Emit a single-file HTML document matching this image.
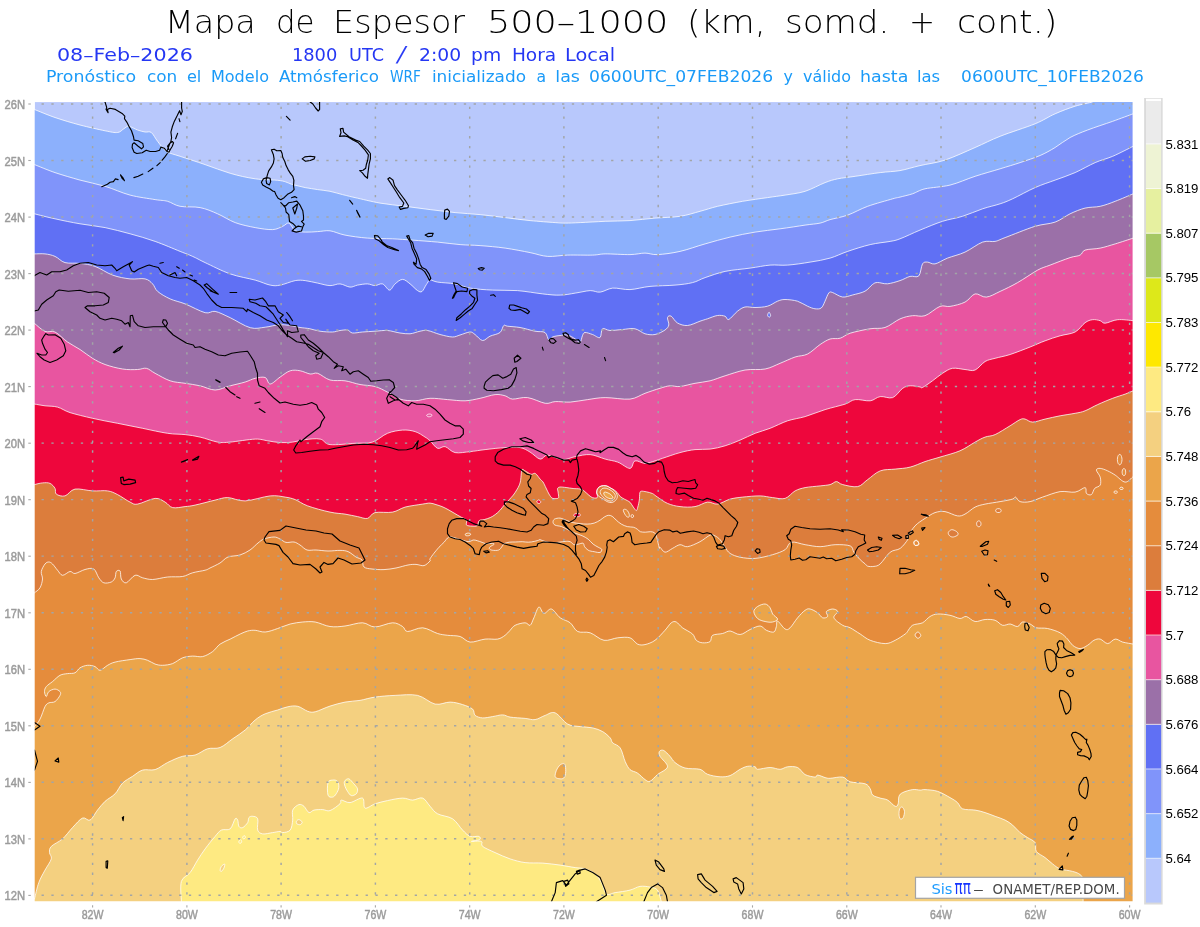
<!DOCTYPE html>
<html lang="es"><head><meta charset="utf-8"><title>Mapa de Espesor 500-1000</title>
<style>html,body{margin:0;padding:0;background:#fff}body{width:1200px;height:927px;position:relative;overflow:hidden}</style></head>
<body>
<svg width="1200" height="927" viewBox="0 0 1200 927" style="position:absolute;left:0;top:0">
<rect x="0" y="0" width="1200" height="927" fill="#fff"/>
<g>
<rect x="34.7" y="102.1" width="1097.8999999999999" height="799.1999999999999" fill="#b8c8fc"/>
<path d="M14.700000000000003 109.5 L34.5 109.5C37.9 110.8 47.4 114.9 55 117.5C62.6 120.1 71.7 122.8 80 125C88.4 127.2 98.8 129.5 105.1 130.8C111.3 132 114.4 132.9 117.6 132.5C120.7 132.2 121.9 129.8 123.8 128.8C125.7 127.7 126.5 126.1 128.8 126.3C131.1 126.5 134.9 129.1 137.6 130C140.3 131 142.8 131.6 145.1 132C147.4 132.4 149.3 131 151.3 132.5C153.4 134.1 155.1 138.2 157.6 141.3C160.1 144.4 162.6 148.8 166.3 151.3C170.1 153.8 173.6 154.1 180.1 156.3C186.6 158.5 196.8 161.7 205.1 164.6C213.5 167.4 221.8 170.9 230.2 173.3C238.5 175.7 246.8 177.6 255.2 178.8C263.5 180 273.9 179.6 280.2 180.6C286.4 181.5 288.5 183.4 292.7 184.6C296.9 185.7 301 186.7 305.2 187.6C309.4 188.4 313.6 188.9 317.7 189.6C321.9 190.2 325.9 190.5 330 191.3C334.1 192.2 338.3 193.5 342.5 194.6C346.7 195.6 348.8 196.2 355 197.6C361.3 199 371.7 201.6 380 203.1C388.4 204.5 396.7 205.2 405.1 206.3C413.4 207.4 421.7 208.5 430.1 209.6C438.4 210.6 446.8 211.7 455.1 212.6C463.4 213.4 471.8 213.8 480.1 214.6C488.5 215.4 496.8 216.6 505.1 217.6C513.5 218.6 521.8 219.8 530.1 220.6C538.5 221.4 549.3 222.2 555.2 222.6C561 223 561 223.1 565.2 223.1C569.3 223.1 573.5 222.9 580.2 222.6C586.9 222.3 596.9 221.7 605.2 221.3C613.5 221 621.7 221.1 630 220.6C638.3 220 646.7 218.8 655 218.1C663.4 217.4 672.5 217.5 680 216.3C687.5 215.2 693.8 213 700 211.3C706.3 209.7 710.5 208 717.6 206.3C724.7 204.7 734.2 202.8 742.6 201.3C750.9 199.9 760.5 198.6 767.6 197.6C774.7 196.5 778.9 196.1 785.1 195.1C791.4 194 798.5 193.4 805.1 191.3C811.8 189.2 819.7 184.6 825.1 182.6C830.6 180.5 832.7 179.9 837.7 178.8C842.7 177.8 848.1 177.4 855.2 176.3C862.3 175.3 872.7 173.5 880.2 172.6C887.7 171.6 893.4 171.7 900 170.6C906.6 169.4 912.5 167.3 920 165.6C927.5 163.8 935.9 163.1 945 160.1C954.2 157 965.9 151.5 975.1 147.5C984.2 143.6 990.1 140.2 1000.1 136.3C1010.1 132.3 1025.9 127.5 1035.1 123.8C1044.3 120 1048.4 116.7 1055.1 113.8C1061.8 110.8 1068.9 108.2 1075.1 106.2C1081.4 104.3 1089.7 102.7 1092.6 102L1092.6 82.1 L1152.6 82.1 L1152.6 921.3 L14.700000000000003 921.3 Z" fill="#8cb0fc" stroke="#fff" stroke-opacity="0.85" stroke-width="0.9" stroke-linejoin="round"/>
<path d="M14.700000000000003 164.6 L34.5 164.6C37.9 165.9 47.4 170 55 172.6C62.6 175.1 71.7 177.8 80 180.1C88.4 182.4 96.7 183.8 105.1 186.3C113.4 188.8 121.7 192.9 130.1 195.1C138.4 197.3 148.8 198.5 155.1 199.6C161.3 200.6 163.4 200.2 167.6 201.3C171.8 202.5 174.7 205.3 180.1 206.3C185.5 207.4 193.9 206.3 200.1 207.6C206.4 208.8 211.8 211.3 217.6 213.8C223.5 216.3 228.9 220.3 235.2 222.6C241.4 224.9 248.9 226.4 255.2 227.6C261.4 228.8 268.1 229.8 272.7 229.6C277.3 229.4 280 227.4 282.7 226.3C285.4 225.3 286.9 222.4 288.9 223.1C291 223.8 292.5 229.1 295.2 230.6C297.9 232.1 301.5 231.9 305.2 232.1C309 232.3 313.6 231.8 317.7 231.6C321.9 231.4 325.5 230.3 330 230.8C334.5 231.4 338.8 233.9 345 235.1C351.3 236.3 359.6 237.5 367.5 238.1C375.5 238.7 385 238.5 392.6 238.8C400.1 239.2 405.1 239.6 412.6 240.1C420.1 240.7 429.7 241.4 437.6 242.1C445.5 242.9 453 244 460.1 244.6C467.2 245.2 472.6 245 480.1 245.6C487.6 246.2 496.8 246.9 505.1 248.1C513.5 249.3 523.1 251.2 530.1 252.6C537.2 254 541.4 256 547.7 256.4C553.9 256.8 560.2 255.3 567.7 255.1C575.2 254.9 586.4 255.3 592.7 255.1C599 254.9 599 254 605.2 253.9C611.4 253.8 623.4 254.7 630 254.6C636.6 254.5 640.4 253.1 645 253.1C649.6 253.1 651.7 254.9 657.5 254.6C663.4 254.3 672.1 253.2 680 251.4C688 249.6 696.7 246.2 705.1 243.9C713.4 241.5 721.7 239.1 730.1 237.1C738.4 235.1 746.8 233.5 755.1 232.1C763.4 230.7 771.8 230 780.1 228.8C788.5 227.7 798.5 226.1 805.1 225.1C811.8 224.1 816 224 820.1 223.1C824.3 222.2 825.6 220.9 830.1 219.6C834.7 218.3 841.4 217.3 847.7 215.1C853.9 212.9 860.2 209 867.7 206.3C875.2 203.6 887.3 200.4 892.7 198.8C898.1 197.3 896.7 197.9 900 197.1C903.3 196.2 908.3 195.2 912.5 193.8C916.7 192.4 918.8 190.3 925 188.8C931.3 187.4 941.7 187.1 950 185.1C958.4 183 966.7 179 975.1 176.3C983.4 173.6 992.6 171.1 1000.1 168.8C1007.6 166.5 1013.4 164.8 1020.1 162.6C1026.8 160.3 1034.3 158 1040.1 155.5C1045.9 153 1050.1 150.5 1055.1 147.5C1060.1 144.5 1064.7 140.4 1070.1 137.5C1075.6 134.6 1080.6 132.7 1087.6 130C1094.7 127.3 1105.1 124 1112.7 121.3C1120.2 118.6 1129.8 115 1133.2 113.8L1152.6 113.8 L1152.6 921.3 L14.700000000000003 921.3 Z" fill="#8094fa" stroke="#fff" stroke-opacity="0.85" stroke-width="0.9" stroke-linejoin="round"/>
<path d="M14.700000000000003 213.8 L34.5 213.8C37.9 214.7 47.4 217.2 55 218.8C62.6 220.5 71.7 222.4 80 223.8C88.4 225.3 96.7 225.9 105.1 227.6C113.4 229.3 121.7 231.6 130.1 233.8C138.4 236.1 146.8 238.4 155.1 241.4C163.4 244.3 173.9 248.9 180.1 251.4C186.4 253.9 188.5 254.5 192.6 256.4C196.8 258.2 198.9 259.7 205.1 262.6C211.4 265.5 221.8 271 230.2 273.9C238.5 276.8 248.5 278.3 255.2 280.1C261.8 282 266 284.3 270.2 285.1C274.4 286 276 285.9 280.2 285.1C284.4 284.4 291 281.4 295.2 280.6C299.4 279.9 301.5 280.2 305.2 280.6C309 281.1 313.6 282.3 317.7 283.1C321.9 284 326.3 285.5 330 285.6C333.7 285.8 336.7 283.6 340 283.9C343.3 284.1 347.1 286.9 350 287.1C352.9 287.3 354.6 285.7 357.5 285.1C360.4 284.6 364.6 283.8 367.5 283.9C370.4 284 372.5 285.6 375 285.6C377.5 285.6 380.1 283.1 382.5 283.9C385 284.6 387.5 290.1 389.5 290.1C391.6 290.1 392.9 285.7 395.1 283.9C397.2 282.1 400 279.4 402.6 279.4C405.1 279.4 407.6 282 410.1 283.9C412.6 285.8 415.6 289.4 417.6 290.6C419.6 291.9 420.6 292.4 422.1 291.4C423.5 290.4 425 286.5 426.3 284.6C427.7 282.8 428.2 280.6 430.1 280.1C432 279.7 433.4 281.5 437.6 282.1C441.7 282.8 449.7 282.9 455.1 283.9C460.5 284.9 463.9 287.1 470.1 288.1C476.4 289.2 484.7 289.7 492.6 290.1C500.5 290.6 509.3 290 517.6 290.6C526 291.3 535.6 293.1 542.7 293.9C549.7 294.7 554.8 295.3 560.2 295.1C565.6 295 570.2 293.9 575.2 293.1C580.2 292.4 586 290.8 590.2 290.6C594.4 290.5 596.4 292.6 600.2 292.1C604 291.7 607.7 288.6 612.7 288.1C617.7 287.7 623.8 289.9 630 289.6C636.2 289.3 642.5 287.1 650 286.4C657.5 285.6 667.9 285.8 675 285.1C682.1 284.5 687.5 283.9 692.5 282.6C697.6 281.4 699.6 279.5 705.1 277.6C710.5 275.8 717.6 273 725.1 271.4C732.6 269.8 742.6 269.2 750.1 268.1C757.6 267.1 763.9 265.6 770.1 265.1C776.4 264.6 780.9 265.6 787.6 265.1C794.3 264.6 803.1 263.3 810.1 262.1C817.2 261 823.9 259.9 830.1 258.1C836.4 256.3 841 253.6 847.7 251.4C854.3 249.1 863.1 246.3 870.2 244.6C877.3 242.9 885.2 242.3 890.2 241.4C895.2 240.4 895 240.7 900 238.8C905 237 912.9 233 920 230.1C927.1 227.2 935.4 223.6 942.5 221.3C949.6 219 955.9 218.4 962.5 216.3C969.2 214.3 976.3 210.9 982.6 208.8C988.8 206.7 995.1 205.5 1000.1 203.8C1005.1 202.2 1006.7 201.5 1012.6 198.8C1018.4 196.1 1028 190.7 1035.1 187.6C1042.2 184.4 1048.4 182.6 1055.1 180.1C1061.8 177.6 1068.5 175.5 1075.1 172.6C1081.8 169.6 1088.9 165.3 1095.2 162.6C1101.4 159.8 1106.3 159 1112.7 156.3C1119 153.6 1129.8 147.9 1133.2 146.3L1152.6 146.3 L1152.6 921.3 L14.700000000000003 921.3 Z" fill="#6070f4" stroke="#fff" stroke-opacity="0.85" stroke-width="0.9" stroke-linejoin="round"/>
<path d="M14.700000000000003 253.9 L34.5 253.9C36.3 253.9 41.6 253.5 45 253.9C48.4 254.3 51.7 254.9 55 256.4C58.4 257.8 60.9 261.5 65 262.6C69.2 263.8 75 262.7 80 263.4C85 264 89.6 264.4 95 266.4C100.5 268.3 106.7 273 112.6 275.1C118.4 277.2 124.7 278.3 130.1 278.9C135.5 279.5 141.3 278 145.1 278.9C148.8 279.7 150.5 281.8 152.6 283.9C154.7 286 154.7 288.9 157.6 291.4C160.5 293.9 165.5 296.8 170.1 298.9C174.7 301 179.3 301.6 185.1 303.9C191 306.2 200.1 311.4 205.1 312.7C210.1 313.9 211 310.6 215.1 311.4C219.3 312.2 224.3 315 230.2 317.7C236 320.4 244.3 326.1 250.2 327.7C256 329.3 260.2 327.7 265.2 327.2C270.2 326.7 275.2 324.8 280.2 324.7C285.2 324.5 291.9 325.9 295.2 326.4C298.5 326.9 297.5 327.1 300 327.5C302.5 327.9 306.7 328.1 310 328.8C313.3 329.4 316.2 330.7 320 331.2C323.8 331.8 329.2 332.1 332.5 332C335.8 331.9 337.5 330.8 340 330.5C342.5 330.2 345.4 329.6 347.5 330C349.6 330.4 350 332.7 352.5 333C355 333.3 358.8 332.3 362.5 332C366.2 331.7 370.8 331.5 375 331.2C379.2 331 383.3 330.2 387.5 330.5C391.7 330.8 396.2 332.5 400 333C403.8 333.5 406.7 334 410 333.8C413.3 333.5 417.1 331.8 420 331.2C422.9 330.7 424.2 330 427.5 330.5C430.8 331 435.8 333.4 440 334.5C444.2 335.6 449.2 336.9 452.5 337C455.8 337.1 457.1 335.8 460 335C462.9 334.2 467.5 332.1 470 332C472.5 331.9 472.9 333.1 475 334.5C477.1 335.9 480 340.2 482.5 340.5C485 340.8 487.1 337.6 490 336.2C492.9 334.9 497.7 334.3 500 332.5C502.3 330.7 502.5 326.5 503.8 325.5C505 324.5 504.8 325.9 507.5 326.2C510.2 326.6 515.4 326.7 520 327.5C524.6 328.3 530.8 330.4 535 331.2C539.2 332.1 542.7 331 545 332.5C547.3 334 547.5 339.2 548.8 340C550 340.8 550.6 337.8 552.5 337C554.4 336.2 557.5 335.8 560 335.5C562.5 335.2 565 334.5 567.5 335C570 335.5 572.9 337.5 575 338.8C577.1 340 578.8 343 580 342.5C581.2 342 581.7 337.2 582.5 335.5C583.3 333.8 583.3 332.7 585 332.5C586.7 332.3 590 333.7 592.5 334.5C595 335.3 598.3 338.5 600 337.5C601.7 336.5 600.8 329.9 602.5 328.8C604.2 327.6 606.7 330.4 610 330.5C613.3 330.6 618.3 329.8 622.5 329.5C626.7 329.2 631.2 328 635 328.8C638.8 329.5 641.7 332.8 645 333.8C648.3 334.7 651.7 335.1 655 334.5C658.3 333.9 662.7 331.6 665 330C667.3 328.4 668.3 327.1 668.8 325C669.2 322.9 667.1 319 667.5 317.5C667.9 316 669.6 315.3 671.2 316.2C672.9 317.2 674.8 321.5 677.5 323C680.2 324.5 683.8 325.8 687.5 325.5C691.2 325.2 696.7 322.4 700 321.2C703.3 320.1 704.6 319.7 707.5 318.8C710.4 317.8 714.6 315.9 717.5 315.5C720.4 315.1 723.1 315.6 725 316.2C726.9 316.9 726.7 320.3 728.8 319.5C730.8 318.7 734.8 313.3 737.5 311.2C740.2 309.2 742.1 307.6 745 307C747.9 306.4 751.2 307.6 755 307.5C758.8 307.4 763.8 307.3 767.5 306.2C771.2 305.2 774.6 302.4 777.5 301.2C780.4 300.1 781.7 299.5 785 299.5C788.3 299.5 793.8 300.1 797.5 301.2C801.2 302.4 804.6 305 807.5 306.2C810.4 307.5 812.7 308.5 815 308.8C817.3 309 819.6 309.2 821.2 308C822.9 306.8 823.8 303.8 825 301.2C826.2 298.8 827.5 294.5 828.8 293C830 291.5 830.2 291.8 832.5 292.5C834.8 293.2 839.2 296.6 842.5 297C845.8 297.4 848.8 296 852.5 295C856.2 294 861.7 293 865 291.2C868.3 289.5 870.4 286 872.5 284.5C874.6 283 875 282.6 877.5 282.5C880 282.4 883.8 284.1 887.5 283.8C891.2 283.4 896.2 281.9 900 280.6C903.8 279.4 906.9 277.2 910 276.4C913.1 275.6 916.7 278 918.8 275.9C920.8 273.8 921.1 266.2 922.5 263.9C924 261.6 925.4 262.1 927.5 262.1C929.6 262.1 931.7 264.5 935 263.9C938.4 263.2 942.5 260.1 947.5 258.1C952.5 256.2 959.2 254.8 965 252.1C970.9 249.4 977.6 243.9 982.6 242.1C987.6 240.3 991.3 242.1 995.1 241.4C998.8 240.6 998.4 240.1 1005.1 237.6C1011.8 235.1 1026.8 228.9 1035.1 226.3C1043.4 223.8 1049.3 224.2 1055.1 222.1C1061 220 1065.1 216.2 1070.1 213.8C1075.1 211.5 1080.1 209.3 1085.1 208.1C1090.1 206.8 1095.1 207.5 1100.2 206.3C1105.2 205.2 1109.7 203.4 1115.2 201.3C1120.7 199.2 1130.2 195.1 1133.2 193.8L1152.6 193.8 L1152.6 921.3 L14.700000000000003 921.3 Z" fill="#9b70a8" stroke="#fff" stroke-opacity="0.85" stroke-width="0.9" stroke-linejoin="round"/>
<path d="M14.700000000000003 323.4 L34.5 323.4C36.3 324.8 41.6 330 45 331.4C48.4 332.9 51.3 330.2 55 332C58.8 333.8 63.4 339.1 67.5 342C71.7 344.9 75.9 346.8 80 349.5C84.2 352.2 88.4 355.8 92.5 358.3C96.7 360.8 100.1 362.7 105.1 364.5C110.1 366.3 117.1 368.2 122.6 369C128 369.9 133.6 369.7 137.6 369.5C141.5 369.4 143.4 367.7 146.3 368.3C149.3 368.9 151.1 371.2 155.1 373.3C159.1 375.4 165.1 379.1 170.1 380.8C175.1 382.5 180.1 382.5 185.1 383.3C190.1 384.1 195.1 384.7 200.1 385.8C205.1 386.9 210.1 390 215.1 390C220.1 390 225.1 387.1 230.2 385.8C235.2 384.5 241 383.3 245.2 382C249.3 380.8 251.8 379 255.2 378.3C258.5 377.5 262.7 376.6 265.2 377.5C267.7 378.5 267.7 384.1 270.2 384C272.7 384 276.9 379.2 280.2 377C283.5 374.8 286.9 371.8 290.2 370.8C293.5 369.7 296.9 370.2 300.2 370.8C303.5 371.3 307.3 373.6 310.2 374C313.1 374.4 314.4 372.3 317.7 373.3C321 374.3 325.5 378.8 330 380C334.5 381.3 340 380 345 380.8C350 381.5 355 383.6 360 384.5C365 385.5 370.4 385.3 375 386.5C379.6 387.8 383.4 390 387.5 392.1C391.7 394.1 395.5 397.6 400.1 399.1C404.6 400.5 410.1 400.9 415.1 400.8C420.1 400.7 424.7 398.5 430.1 398.3C435.5 398.1 441.8 399.1 447.6 399.6C453.4 400 459.7 401 465.1 400.8C470.5 400.6 475.1 399.3 480.1 398.3C485.1 397.3 490.9 395 495.1 394.6C499.3 394.1 502.2 395.1 505.1 395.8C508.1 396.6 508.9 398.8 512.6 399.1C516.4 399.3 522.2 396.8 527.6 397.6C533.1 398.3 540.6 402.6 545.2 403.3C549.7 404 551 401.8 555.2 401.6C559.3 401.3 564.8 402.4 570.2 402.1C575.6 401.7 581.9 400.3 587.7 399.6C593.5 398.8 598.2 397.6 605.2 397.6C612.3 397.5 623.4 399.8 630 399.1C636.6 398.3 640 395.1 645 393.3C650 391.5 655.9 389.5 660 388.3C664.2 387 666.7 386.1 670 385.8C673.4 385.5 675.9 387 680 386.5C684.2 386.1 690 384.2 695 383.3C700.1 382.3 705.1 382 710.1 380.8C715.1 379.5 719.2 377.6 725.1 375.8C730.9 374 738.4 371.2 745.1 370C751.8 368.9 759.3 370.2 765.1 369C770.9 367.9 775.1 365.3 780.1 363.3C785.1 361.3 790.5 358.6 795.1 357C799.7 355.5 803.5 356.1 807.6 354C811.8 351.9 816.4 347 820.1 344.5C823.9 342 826.8 340.1 830.1 339C833.5 338 836.8 339.2 840.2 338.2C843.5 337.3 845.2 334.8 850.2 333.2C855.1 331.7 864.2 329.7 870 328.8C875.8 327.8 880 329.1 885 327.5C890 325.9 895.4 320.9 900 318.9C904.6 316.9 908.3 316.2 912.5 315.7C916.7 315.1 920.4 317.2 925 315.7C929.6 314.1 935.9 307.9 940 306.4C944.2 304.9 945.9 307.1 950 306.4C954.2 305.7 960.9 304.2 965 302.1C969.2 300.1 971.5 294.7 975.1 293.9C978.6 293.1 982.1 297.6 986.3 297.1C990.5 296.7 994.9 293.8 1000.1 291.4C1005.3 289 1011.3 286.2 1017.6 282.6C1023.8 279.1 1032.2 273.1 1037.6 270.1C1043 267.2 1044.7 267.2 1050.1 265.1C1055.5 263 1065.1 259.3 1070.1 257.6C1075.1 256 1077.6 256.4 1080.1 255.1C1082.6 253.9 1081.8 251.3 1085.1 250.1C1088.5 248.9 1095.1 249.2 1100.2 248.1C1105.2 247.1 1109.7 245.5 1115.2 243.9C1120.7 242.2 1130.2 239.1 1133.2 238.1L1152.6 238.1 L1152.6 921.3 L14.700000000000003 921.3 Z" fill="#e855a0" stroke="#fff" stroke-opacity="0.85" stroke-width="0.9" stroke-linejoin="round"/>
<path d="M14.700000000000003 404.1 L34.5 404.1C36.3 404.3 41.2 405.3 45 405.8C48.8 406.3 53.4 405.9 57.5 407.1C61.7 408.2 64.2 410.7 70 412.6C75.9 414.4 84.6 416.5 92.5 418.3C100.5 420.1 109.2 421.7 117.6 423.3C125.9 425 134.2 426.7 142.6 428.3C150.9 430 160.5 432.3 167.6 433.3C174.7 434.4 179.7 434 185.1 434.6C190.5 435.2 194.7 435.8 200.1 437.1C205.5 438.3 212.6 441.2 217.6 442.1C222.6 442.9 223.9 442.6 230.2 442.1C236.4 441.6 248.9 439.3 255.2 439.1C261.4 438.9 263.5 440.2 267.7 440.8C271.9 441.4 276 442.4 280.2 442.6C284.4 442.8 288.5 442.6 292.7 442.1C296.9 441.6 300.6 440.1 305.2 439.6C309.8 439.1 316.1 438.2 320.2 439.1C324.4 439.9 324.2 443.9 330 444.6C335.8 445.3 347.9 443.7 355 443.3C362.1 442.9 367.1 443.7 372.5 442.1C377.9 440.4 382.5 435.3 387.5 433.3C392.5 431.3 398 430.4 402.6 430.1C407.1 429.8 411.3 430.4 415.1 431.6C418.8 432.7 422.6 435.5 425.1 437.1C427.6 438.6 428 439 430.1 440.8C432.2 442.7 435.1 447.4 437.6 448.3C440.1 449.3 442.2 445.9 445.1 446.6C448 447.3 450.9 451.8 455.1 452.6C459.3 453.4 465.1 452.1 470.1 451.6C475.1 451.1 479.3 450.3 485.1 449.6C491 448.9 499.3 447.9 505.1 447.6C511 447.3 516 446.8 520.1 447.6C524.3 448.3 526.8 450.2 530.1 452.1C533.5 454 537.2 458.6 540.2 459.1C543.1 459.6 543.9 455 547.7 455.1C551.4 455.2 558.1 459.4 562.7 459.6C567.3 459.9 570.6 457.4 575.2 456.6C579.8 455.8 585.2 454.2 590.2 454.6C595.2 455 600.6 457.8 605.2 459.1C609.8 460.4 613.6 460.6 617.7 462.1C621.9 463.6 627.1 468.6 630 468.4C632.9 468.1 632.5 461.7 635 460.9C637.5 460 641.7 463.4 645 463.4C648.3 463.4 652.1 461.7 655 460.9C657.9 460 658.4 459.7 662.5 458.3C666.7 457 674.6 454 680 452.6C685.5 451.1 690 450.2 695 449.6C700.1 449 705.1 449.7 710.1 449.1C715.1 448.5 720.1 447.3 725.1 445.8C730.1 444.3 735.1 442.2 740.1 440.1C745.1 438 750.1 435.3 755.1 433.3C760.1 431.4 764.7 430.4 770.1 428.3C775.5 426.2 781.8 422.8 787.6 420.8C793.5 418.9 798.9 418.4 805.1 416.6C811.4 414.7 818.5 411.6 825.1 409.6C831.8 407.5 840.2 405.7 845.2 404.1C850.2 402.4 851 400.1 855.2 399.6C859.3 399 866 401.3 870.2 400.8C874.3 400.3 876.4 397.1 880.2 396.6C883.9 396 888.9 398.9 892.7 397.6C896.5 396.2 899.8 390.2 902.7 388.3C905.6 386.3 907.3 386 910.2 385.8C913.1 385.6 918.2 386.7 920.2 387C922.3 387.3 920.5 388.6 922.5 387.5C924.6 386.5 929.2 383.2 932.5 380.8C935.9 378.4 939.2 375.4 942.5 373.3C945.9 371.2 948.8 368.9 952.5 368.3C956.3 367.7 961.3 369.2 965 369.5C968.8 369.8 971.7 371.4 975.1 370C978.4 368.7 981.7 363.5 985.1 361.5C988.4 359.6 990.9 359.4 995.1 358.3C999.2 357.1 1004.2 356.4 1010.1 354.5C1015.9 352.6 1024.3 349.3 1030.1 347C1035.9 344.7 1040.1 342.6 1045.1 340.8C1050.1 338.9 1055.1 337.2 1060.1 335.8C1065.1 334.3 1071 334.2 1075.1 332C1079.3 329.8 1082.2 324.7 1085.1 322.7C1088.1 320.6 1090.1 320 1092.6 319.7C1095.1 319.3 1098.1 320.1 1100.2 320.7C1102.2 321.3 1102.2 323.3 1105.2 323.2C1108.1 323 1113 320.1 1117.7 319.7C1122.3 319.2 1130.6 320.5 1133.2 320.7L1152.6 320.7 L1152.6 921.3 L14.700000000000003 921.3 Z" fill="#ee063c" stroke="#fff" stroke-opacity="0.85" stroke-width="0.9" stroke-linejoin="round"/>
<path d="M14.700000000000003 484.6 L34.5 484.6C35.8 484.3 39.9 483.1 42.5 482.9C45.1 482.7 47.9 482.4 50 483.4C52.1 484.3 54 486.6 55 488.4C56.1 490.2 54.6 492.9 56.3 494.1C57.9 495.4 61.9 496.7 65 495.9C68.2 495 70.4 490 75 489.1C79.6 488.3 87.1 490.6 92.5 490.9C98 491.2 103.4 490.2 107.6 490.9C111.7 491.5 113.8 492.7 117.6 494.6C121.3 496.5 126.7 500.5 130.1 502.1C133.4 503.7 133.4 504.8 137.6 504.1C141.7 503.5 150.5 498.7 155.1 498.4C159.7 498 162.2 500.6 165.1 502.1C168 503.7 169.3 506.9 172.6 507.6C175.9 508.4 181.4 507 185.1 506.6C188.9 506.2 190.1 506.2 195.1 505.1C200.1 504 209.7 501.4 215.1 500.1C220.6 498.9 222.6 497.5 227.7 497.6C232.7 497.7 238.1 501.2 245.2 500.9C252.2 500.6 263.5 496.5 270.2 495.9C276.9 495.2 281 496.5 285.2 497.1C289.4 497.7 291.4 498.2 295.2 499.6C299 501.1 301.9 503.8 307.7 505.9C313.5 508 323.8 510.8 330 512.1C336.2 513.5 340.4 513.4 345 514.1C349.6 514.9 353.8 515.9 357.5 516.6C361.3 517.3 364.6 519.1 367.5 518.4C370.4 517.7 370.9 513.7 375 512.6C379.2 511.6 387.5 513.1 392.6 512.1C397.6 511.2 400.1 508.5 405.1 507.1C410.1 505.8 418.4 504.8 422.6 504.1C426.7 503.5 427.8 503 430 503.1C432.2 503.2 434 504 436 504.6C438 505.2 440 505.8 442 506.6C444 507.4 446.1 508.5 448.1 509.6C450.1 510.7 452.1 511.9 454.1 513.1C456.1 514.3 458.3 515.6 460.1 516.6C461.9 517.6 464 518.4 465.1 519.1C466.2 519.9 466.4 520.1 466.6 521.1C466.9 522.1 465.7 524.3 466.6 525.1C467.5 526 470.4 526.1 472.1 526.1C473.9 526.2 476 526.6 477.2 525.6C478.3 524.7 478 521.6 479.2 520.6C480.3 519.6 482.3 520.1 484.2 519.6C486 519.1 488.4 518.5 490.2 517.6C492 516.8 493.5 515.9 495.2 514.6C496.9 513.4 498.7 511.7 500.2 510.1C501.7 508.5 502.7 506.8 504.2 505.1C505.8 503.3 507.8 501.2 509.3 499.6C510.8 497.9 511.9 496.8 513.3 495.1C514.6 493.3 516.1 491.2 517.3 489C518.5 486.9 519.5 485.2 520.3 482C521.1 478.9 521.1 472 521.9 470.1C522.8 468.3 523.7 470.3 525.3 471C526.8 471.7 529.5 473.9 531.1 474.3C532.8 474.7 533.8 472.6 535.3 473.5C536.9 474.3 539 477.9 540.3 479.3C541.6 480.8 542.1 480.6 543 482C544 483.5 545 486 546 488C547 490 548 492.4 549 494.1C550 495.7 550.9 497.3 552 498.1C553.2 498.8 555 498.6 556 498.6C557.1 498.5 558.2 498.6 558.6 497.6C558.9 496.5 558.2 493.5 558.1 492C557.9 490.5 557.2 489.4 557.6 488.5C557.9 487.7 558.6 487.2 560.1 487C561.5 486.9 563.9 487.3 566.1 487.5C568.3 487.8 570.8 488.3 573.1 488.5C575.5 488.8 578.3 488.6 580.1 489C582 489.4 582.8 490.1 584.1 491C585.5 492 586.8 493.5 588.2 494.6C589.5 495.6 590.8 497 592.2 497.6C593.5 498.1 595.3 498.2 596.2 498.1C597.1 497.9 597.6 497.4 597.7 496.6C597.8 495.7 596.7 494.4 596.7 493C596.7 491.7 596.9 489.7 597.7 488.5C598.4 487.4 599.8 486.5 601.2 486C602.6 485.6 604.7 485.5 606.2 485.8C607.7 486.1 608.9 487.1 610.2 487.8C611.6 488.5 613.1 489.2 614.2 490C615.4 490.8 616.2 491.5 617.2 492.5C618.3 493.6 619.1 495.5 620.3 496.6C621.4 497.6 623.1 498.4 624.3 499.1C625.5 499.7 626.3 500 627.3 500.6C628.3 501.2 629.3 501.5 630.3 502.6C631.3 503.7 632.3 505.8 633.3 507.1C634.3 508.4 635.6 510.6 636.3 510.6C637.1 510.6 637.3 508.8 637.8 507.1C638.3 505.3 639 502.4 639.3 500.1C639.7 497.7 639.5 494.5 639.8 493C640.2 491.6 640.2 491.4 641.3 491.2C642.4 491 644.5 491.5 646.4 491.8C648.2 492.2 650.5 492.7 652.4 493.5C654.2 494.4 655 495.5 657.5 497.1C660 498.8 663.8 501.8 667.5 503.4C671.3 505 675.5 506.1 680 506.6C684.6 507.2 690.5 507.4 695 506.6C699.6 505.9 703.8 502.5 707.6 502.1C711.3 501.7 713.8 504.6 717.6 504.1C721.3 503.6 725.9 500.3 730.1 499.1C734.2 498 737.6 497.7 742.6 497.1C747.6 496.6 755.1 495.8 760.1 495.9C765.1 496 768.4 497.2 772.6 497.6C776.8 498 781.4 499.5 785.1 498.4C788.9 497.2 791.8 492.7 795.1 490.9C798.5 489.1 801 488.5 805.1 487.6C809.3 486.8 816 486.4 820.1 485.9C824.3 485.4 827.4 485.3 830.1 484.6C832.9 483.9 834.3 481.6 836.4 481.6C838.5 481.6 839.1 483.8 842.7 484.6C846.2 485.4 853.5 487.5 857.7 486.6C861.8 485.8 863.9 482.2 867.7 479.6C871.4 477 875.6 472.6 880.2 470.9C884.8 469.1 890.2 469.7 895.2 469.1C900.2 468.5 905.2 468.4 910.2 467.1C915.2 465.9 920 463.3 925 461.6C930 459.9 934.2 458.9 940 457.1C945.9 455.3 954.2 453.3 960 450.8C965.9 448.3 970.9 444.4 975.1 442.1C979.2 439.8 981.7 438.3 985.1 437.1C988.4 435.8 990.9 436.5 995.1 434.6C999.2 432.7 1005.9 428.3 1010.1 425.8C1014.2 423.3 1017.6 420.7 1020.1 419.6C1022.6 418.4 1023 418.7 1025.1 419.1C1027.2 419.5 1029.3 422.1 1032.6 422.1C1035.9 422.1 1040.5 420.1 1045.1 419.1C1049.7 418 1055.1 416.8 1060.1 415.8C1065.1 414.9 1071 414.1 1075.1 413.3C1079.3 412.5 1081.4 412.3 1085.1 410.8C1088.9 409.4 1093.1 406.6 1097.7 404.6C1102.2 402.5 1108.1 400.1 1112.7 398.3C1117.2 396.6 1121.8 395.3 1125.2 394.1C1128.6 392.8 1131.8 391.3 1133.2 390.8L1152.6 390.8 L1152.6 921.3 L14.700000000000003 921.3 Z" fill="#dc7d3c" stroke="#fff" stroke-opacity="0.85" stroke-width="0.9" stroke-linejoin="round"/>
<path d="M14.700000000000003 592.8 L34.5 592.8C35.4 591.9 38.7 590.1 40 587.8C41.3 585.5 42.3 581.7 42.5 579C42.7 576.3 40.8 574 41.3 571.5C41.7 569 43.8 565.6 45 564C46.3 562.4 47.5 562 48.8 562C50 562 51.1 562.6 52.5 564C54 565.4 55.9 568.4 57.5 570.2C59.2 572.1 60.4 575 62.5 575.3C64.6 575.5 67.9 571.8 70 571.5C72.1 571.2 72.5 573.8 75 573.5C77.5 573.2 81.9 570.3 85 569.5C88.2 568.7 91.5 567.6 93.8 569C96.1 570.4 97.1 575.5 98.8 577.8C100.5 580.1 101.7 582.1 103.8 582.8C105.9 583.5 109.4 582.8 111.3 582C113.2 581.2 114.2 579.5 115.1 577.8C115.9 576 115.5 572.6 116.3 571.5C117.1 570.4 119.2 569.8 120.1 571C120.9 572.3 120.3 577.1 121.3 579C122.4 581 124 583.4 126.3 582.8C128.6 582.1 132.4 576.1 135.1 575.3C137.8 574.4 139.7 577.1 142.6 577.8C145.5 578.5 148.4 579.6 152.6 579.5C156.8 579.4 162.6 577.5 167.6 577C172.6 576.5 178.4 577.2 182.6 576.5C186.8 575.8 188.9 573.8 192.6 572.8C196.4 571.7 202.2 571 205.1 570.2C208 569.5 207.5 569.2 210 568C212.5 566.8 217 564.8 220 563C223 561.2 224.7 558.3 228 557C231.3 555.7 236.3 556.2 240 555C243.7 553.8 247 552 250 550C253 548 255.7 544.8 258 543C260.3 541.2 261.3 540 264 539C266.7 538 271.3 537 274 537C276.7 537 278 538.1 280 539C282 539.9 283.7 541.9 286 542.4C288.3 542.9 291.7 541.6 294 542C296.3 542.4 297.8 543.7 300 545C302.2 546.3 304.3 549.2 307 550C309.7 550.8 312.5 549.8 316 550C319.5 550.2 324 550.9 328 551C332 551.1 336.7 550.3 340 550.4C343.3 550.5 345.3 550.5 348 551.6C350.7 552.7 353.7 555.6 356 557C358.3 558.4 360.7 558.3 362 560C363.3 561.7 362.3 565.5 364 567C365.7 568.5 368.7 568.6 372 569C375.3 569.4 380 569.8 384 569.6C388 569.4 392 568.8 396 568C400 567.2 404.7 565.6 408 565C411.3 564.4 413.3 564.3 416 564.4C418.7 564.5 421.7 566.2 424 565.6C426.3 565 429 562.1 430 561C431 559.9 429.3 560.1 430 558.8C430.7 557.5 432.5 555.2 434 553.2C435.5 551.3 437.4 549.1 439 547.2C440.7 545.4 442.5 543.9 444.1 542.2C445.6 540.5 447.1 538 448.6 537.2C450.1 536.4 451.3 537.1 453.1 537.4C454.8 537.7 457.3 538.6 459.1 539.2C460.9 539.8 462.4 540.3 464.1 540.7C465.8 541.1 467.6 541.8 469.1 541.7C470.6 541.6 471.8 540.2 473.1 540C474.5 539.8 475.7 540.3 477.2 540.7C478.7 541.1 480.7 541.9 482.2 542.4C483.7 542.9 484.5 543.5 486.2 543.7C487.9 543.9 490.9 543.3 492.2 543.4C493.5 543.5 494.5 543.7 494.2 544.2C493.9 544.8 491 546 490.2 546.7C489.4 547.5 489.1 548.1 489.4 548.7C489.7 549.3 490.7 550 492.2 550.2C493.8 550.4 497.1 550.7 498.7 550C500.4 549.4 501.3 547.3 502.2 546.2C503.2 545.2 503.1 544.4 504.2 543.7C505.4 543 507.4 542.5 509.3 542.2C511.1 541.9 513.1 542.1 515.3 542C517.5 541.9 520.1 541.7 522.3 541.7C524.5 541.7 526.3 542.3 528.3 542.2C530.3 542.2 532.5 541.8 534.3 541.4C536.2 541 538.4 540.3 539.4 540C540.3 539.7 538.9 539.4 540 539.7C541.1 540 544 541.2 546 541.7C548 542.2 549.9 542.6 552 542.7C554.2 542.8 556.9 542.4 559.1 542.2C561.2 542 563.2 541.5 565.1 541.4C566.9 541.3 568.6 541.1 570.1 541.7C571.6 542.3 572.8 544.3 574.1 544.7C575.4 545.1 576.6 544.5 578.1 544.2C579.6 544 582.1 542.8 583.1 543.2C584.2 543.6 583.8 545.6 584.6 546.7C585.5 547.9 586.6 549.4 588.2 550.2C589.7 551.1 592.2 551.4 594.2 551.7C596.2 552.1 598.9 552.9 600.2 552.4C601.5 552 602 550.1 601.7 549.2C601.4 548.4 599.6 548.1 598.2 547.2C596.8 546.4 594.9 545.5 593.2 544.2C591.5 542.9 590 540.6 588.2 539.2C586.3 537.8 584.3 536.7 582.1 535.7C580 534.7 577.3 534.1 575.1 533.2C572.9 532.3 571.4 531.3 569.1 530.2C566.8 529.1 563.9 527.5 561.6 526.6C559.2 525.8 556.5 525.9 555 525.1C553.6 524.4 553.1 523.1 553 522.1C553 521.1 553.4 519.8 554.5 519.1C555.7 518.5 558 517.9 560.1 518.1C562.2 518.4 564.9 519.9 567.1 520.6C569.3 521.4 570.9 522.1 573.1 522.6C575.3 523.1 577.8 523.4 580.1 523.6C582.5 523.9 584.8 524.2 587.2 524.1C589.5 524.1 592 523.8 594.2 523.1C596.4 522.5 598.5 521.1 600.2 520.1C601.9 519.1 602.9 517.9 604.2 517.1C605.5 516.3 606.9 515.5 608.2 515.3C609.6 515.2 610.9 515.5 612.2 516.3C613.6 517.1 614.7 518.8 616.2 520.1C617.8 521.4 619.4 523.1 621.3 524.1C623.1 525.2 625.3 526.1 627.3 526.6C629.3 527.2 631.6 526.7 633.3 527.2C635 527.6 636.2 528.4 637.3 529.2C638.5 529.9 639 531.2 640.3 531.7C641.7 532.2 643.7 532.2 645.4 532.2C647 532.2 648.9 531.6 650.4 531.7C651.9 531.8 653.4 531.9 654.4 532.7C655.4 533.4 655.8 534.6 656.4 536.2C657 537.8 657.4 540.2 657.9 542.2C658.4 544.2 659 547.4 659.4 548.2C659.7 549.1 659.1 546.5 660 547.2C661 547.8 662.9 552 665 552.2C667.1 552.4 670 549.7 672.5 548.4C675 547.2 677.5 545 680 544.7C682.5 544.4 684.2 547.2 687.5 546.7C690.9 546.2 696.3 543.6 700 541.7C703.8 539.7 707.6 536.1 710.1 535.1C712.6 534.2 713.4 535.1 715.1 535.9C716.7 536.7 718.4 537.8 720.1 539.7C721.7 541.5 723.4 544.9 725.1 547.2C726.7 549.5 727.6 551.8 730.1 553.4C732.6 555.1 735.9 556.3 740.1 557.2C744.2 558 749.7 558.8 755.1 558.4C760.5 558 767.6 556.1 772.6 554.7C777.6 553.2 782 551.7 785.1 549.7C788.2 547.6 788 543 791.4 542.2C794.7 541.3 800.3 543.9 805.1 544.7C809.9 545.4 815.1 546.7 820.1 546.7C825.1 546.7 830.1 544.8 835.1 544.7C840.2 544.5 847 544.7 850.2 545.9C853.3 547.2 852.3 549.9 853.9 552.2C855.6 554.5 858.3 557.7 860.2 559.7C862 561.6 863.9 562.8 865.2 563.9C866.4 565 866.2 565.8 867.7 566.2C869.1 566.6 871.8 566.8 873.9 566.4C876 566.1 877.5 566.3 880.2 563.9C882.9 561.5 886.9 554.8 890.2 552.2C893.5 549.6 897.3 550.5 900.2 548.4C903.1 546.3 906.5 541.5 907.7 539.7C908.9 537.8 906.3 539.4 907.5 537.1C908.7 534.9 912.1 529 915 525.9C917.9 522.8 921.7 520.6 925 518.4C928.4 516.2 931.7 513.8 935 512.6C938.4 511.5 941.3 511.1 945 511.6C948.8 512.2 954.2 515.5 957.5 515.9C960.9 516.3 962.1 515.6 965 514.1C968 512.7 971.7 508.8 975.1 507.1C978.4 505.5 980.9 505 985.1 504.1C989.2 503.2 995.5 502.5 1000.1 501.6C1004.7 500.8 1010 499.9 1012.6 499.1C1015.2 498.4 1014.3 496.7 1015.6 497.1C1016.8 497.5 1017.7 500.9 1020.1 501.6C1022.5 502.4 1026.3 502.4 1030.1 501.6C1033.9 500.9 1037.6 498.8 1042.6 497.1C1047.6 495.5 1054.7 492.5 1060.1 491.6C1065.5 490.8 1071 492.8 1075.1 492.1C1079.3 491.5 1083.3 487.4 1085.1 487.6C1087 487.8 1085.3 492.2 1086.4 493.4C1087.4 494.5 1090 495.5 1091.4 494.6C1092.8 493.8 1093.2 490 1094.7 488.4C1096.1 486.8 1099.2 487 1100.2 485.1C1101.1 483.2 1100.8 479.6 1100.2 477.1C1099.5 474.6 1096.4 471.6 1096.4 470.1C1096.4 468.6 1098.3 468.2 1100.2 468.4C1102 468.5 1105.2 469.7 1107.7 470.9C1110.2 472 1112.2 473.2 1115.2 475.1C1118.1 477 1122.2 481.9 1125.2 482.1C1128.2 482.4 1131.8 477.5 1133.2 476.6L1152.6 476.6 L1152.6 921.3 L14.700000000000003 921.3 Z" fill="#e58c3c" stroke="#fff" stroke-opacity="0.85" stroke-width="0.9" stroke-linejoin="round"/>
<path d="M14.700000000000003 726.6 L34.5 726.6C35.4 725.4 38.3 722.5 40 719.1C41.8 715.8 43.6 709.3 45 706.6C46.5 703.9 47.1 703.7 48.8 702.9C50.4 702 53.1 702.9 55 701.6C56.9 700.4 59.2 697 60 695.4C60.9 693.7 60.9 692.6 60 691.6C59.2 690.6 56.9 689.1 55 689.1C53.1 689.1 50.2 690.3 48.8 691.6C47.3 692.9 47 696.6 46.3 696.6C45.6 696.6 44.5 693.3 44.5 691.6C44.5 689.9 44.9 688.3 46.3 686.6C47.6 684.9 50.2 683.5 52.5 681.6C54.8 679.7 57.5 676.7 60 675.3C62.5 674 65 674 67.5 673.6C70 673.2 72.9 673.8 75 672.8C77.1 671.9 78 669.1 80 667.8C82.1 666.6 85 665.5 87.5 665.3C90 665.1 93 665.7 95 666.6C97.1 667.4 98 670.5 100 670.3C102.1 670.1 105.1 666.7 107.6 665.3C110.1 664 111.3 663 115.1 662.1C118.8 661.1 125.9 660.2 130.1 659.6C134.2 659 137.2 658.4 140.1 658.6C143 658.7 145.1 659.4 147.6 660.3C150.1 661.2 152.6 663.2 155.1 664.1C157.6 664.9 159.7 665.4 162.6 665.3C165.5 665.2 169.3 664.8 172.6 663.6C175.9 662.3 179.3 659.1 182.6 657.8C185.9 656.6 189.3 656.3 192.6 656.1C196 655.9 199.3 657.3 202.6 656.6C206 655.8 209.7 653.7 212.6 651.6C215.6 649.5 217.2 646.1 220.1 644.1C223.1 642 226.8 640.7 230.2 639.1C233.5 637.4 237.2 635.4 240.2 634C243.1 632.7 245.2 631.7 247.7 631C250.2 630.4 252.2 630.1 255.2 630.3C258.1 630.5 261.4 632.3 265.2 632C268.9 631.8 273.5 629.9 277.7 628.5C281.9 627.2 286 625.1 290.2 624C294.4 623 298.5 622.4 302.7 622C306.9 621.7 310.7 621.3 315.2 622C319.8 622.8 325 625.9 330 626.5C335 627.2 339.6 626.7 345 626C350.4 625.4 357.5 622.6 362.5 622.8C367.5 623 370 627 375 627C380 627 388 622.9 392.6 622.8C397.1 622.7 400 625.1 402.6 626.5C405.1 628 404.2 631.3 407.6 631.5C410.9 631.8 417.6 627.5 422.6 627.8C427.6 628.1 433.4 632.3 437.6 633.5C441.8 634.8 443.8 634.8 447.6 635.3C451.3 635.8 456.3 635.4 460.1 636.5C463.9 637.7 465.9 641.6 470.1 642.1C474.3 642.5 480.5 639.6 485.1 639.1C489.7 638.6 494.3 639.7 497.6 639.1C501 638.4 503 636.8 505.1 635.3C507.2 633.8 508.5 632 510.1 630.3C511.8 628.6 512.6 626.6 515.1 625.3C517.6 624 522.6 622.8 525.1 622.8C527.7 622.8 528.7 626.1 530.1 625.3C531.6 624.5 532.4 620.8 533.9 617.8C535.4 614.7 537.2 607.7 538.9 607C540.6 606.3 541.8 613.2 543.9 613.5C546 613.9 548.7 608.3 551.4 609C554.1 609.7 557 615.5 560.2 617.8C563.3 620.1 567.3 620.5 570.2 622.8C573.1 625.1 574.4 629.9 577.7 631.5C581 633.2 585.8 631.3 590.2 632.8C594.6 634.3 599.4 639.5 604 640.3C608.5 641.1 613.4 638.2 617.7 637.8C622.1 637.4 626.7 636.8 630 637.8C633.3 638.9 635 642.9 637.5 644.1C640 645.2 642.1 645.2 645 644.6C647.9 643.9 651.7 642.7 655 640.3C658.4 637.9 662.3 633.2 665 630.3C667.7 627.4 669.4 624.2 671.3 622.8C673.2 621.4 674.4 621.2 676.3 622C678.2 622.9 679.8 625.8 682.5 627.8C685.3 629.8 690.3 632 692.5 634C694.8 636.1 694.6 638.8 696.3 640.3C698 641.8 700.3 642.6 702.5 642.8C704.8 643 708.4 642.8 710.1 641.6C711.7 640.3 710.5 636.6 712.6 635.3C714.6 634 719.7 634.3 722.6 633.5C725.5 632.8 727.2 630.9 730.1 631C733 631.2 736.7 634.8 740.1 634.5C743.4 634.3 746.8 631 750.1 629.5C753.4 628.1 757.4 625.9 760.1 626C762.8 626.2 764.1 629.3 766.4 630.3C768.6 631.3 772.2 632.7 773.9 632C775.5 631.4 775.7 628.4 776.4 626.5C777 624.7 776.1 620.6 777.6 621C779.1 621.5 783 627.9 785.1 629C787.2 630.2 788 629.7 790.1 627.8C792.2 625.9 795.1 620.7 797.6 617.8C800.1 614.9 803 611.7 805.1 610.3C807.2 608.8 808.1 608.6 810.1 609C812.2 609.4 815.6 611.3 817.6 612.8C819.7 614.2 821 617.2 822.6 617.8C824.3 618.4 827 617.6 827.6 616.5C828.3 615.5 825.6 612.8 826.4 611.5C827.2 610.3 830.8 609 832.6 609C834.5 609 837.5 610.1 837.7 611.5C837.9 613 833.1 615.5 833.9 617.8C834.7 620.1 839.9 623.6 842.7 625.3C845.4 627 847.3 626.3 850.2 627.8C853.1 629.3 856.8 632 860.2 634C863.5 636.1 866 638.7 870.2 640.3C874.3 641.9 881 643.6 885.2 643.6C889.4 643.6 891.9 641.9 895.2 640.3C898.5 638.7 903.2 635.5 905.2 634C907.3 632.6 906.3 633 907.5 631.5C908.7 630.1 910 626.8 912.5 625.3C915 623.8 919.6 624.2 922.5 622.8C925.4 621.3 927.5 618 930 616.5C932.5 615.1 934.2 614.2 937.5 614C940.9 613.8 946.3 614.5 950 615.3C953.8 616 957.3 618.3 960 618.5C962.8 618.7 963.8 616 966.3 616.5C968.8 617 971.9 621 975.1 621.5C978.2 622 981.7 619.7 985.1 619.5C988.4 619.3 992.2 619.3 995.1 620.3C998 621.2 1000.1 624.7 1002.6 625.3C1005.1 625.9 1007.6 623.8 1010.1 624C1012.6 624.3 1015.5 626.9 1017.6 626.5C1019.7 626.2 1020.5 622.5 1022.6 622C1024.7 621.6 1027.8 623.1 1030.1 624C1032.4 625 1033.4 627 1036.3 627.8C1039.3 628.5 1043.6 627.7 1047.6 628.5C1051.6 629.4 1056.8 631 1060.1 632.8C1063.5 634.6 1065.5 637 1067.6 639.1C1069.7 641.1 1070.5 643.7 1072.6 645.3C1074.7 646.9 1077.6 648.6 1080.1 648.6C1082.6 648.6 1085.3 646.7 1087.6 645.3C1089.9 643.9 1091.8 641.4 1093.9 640.3C1096 639.3 1097.9 638.5 1100.2 639.1C1102.4 639.6 1105.2 643.6 1107.7 643.6C1110.2 643.6 1112.7 639.3 1115.2 639.1C1117.7 638.8 1119.7 641.2 1122.7 642.1C1125.7 642.9 1131.4 643.7 1133.2 644.1L1152.6 644.1 L1152.6 921.3 L14.700000000000003 921.3 Z" fill="#eba54a" stroke="#fff" stroke-opacity="0.85" stroke-width="0.9" stroke-linejoin="round"/>
<path d="M14.700000000000003 898.9 L34.5 898.9C35.2 896.2 37 887.4 38.8 882.6C40.5 877.8 42.9 874.1 45 870.1C47.1 866.2 50.5 861.8 51.3 858.9C52 856 49.5 854.7 49.5 852.6C49.5 850.5 49.1 848.7 51.3 846.4C53.4 844.1 59 842 62.5 838.9C66.1 835.7 69.2 831.1 72.5 827.6C75.9 824.1 79.6 819.3 82.5 818.1C85.5 816.8 87.5 821.4 90 820.1C92.6 818.8 95 813.2 97.5 810.1C100.1 807 102.1 804 105.1 801.3C108 798.6 112.1 796.9 115.1 793.8C118 790.8 119.6 786 122.6 783.1C125.5 780.2 129.2 778.5 132.6 776.3C135.9 774.1 138.8 771.2 142.6 770.1C146.3 768.9 150.9 770.8 155.1 769.6C159.3 768.3 163 764.8 167.6 762.5C172.2 760.3 178 757.5 182.6 756.3C187.2 755 191 756.3 195.1 755C199.3 753.8 203.5 750 207.6 748.8C211.8 747.5 216 749.2 220.1 747.5C224.3 745.9 228.5 741.7 232.7 738.8C236.8 735.9 241.4 733.2 245.2 730C248.9 726.9 251.8 722.7 255.2 720C258.5 717.3 261.4 715.4 265.2 713.8C268.9 712.1 273.9 711.2 277.7 710C281.4 708.8 284.4 707.4 287.7 706.8C291 706.1 294.4 705.5 297.7 706.3C301 707 304.8 710.3 307.7 711.3C310.6 712.2 311.5 712.6 315.2 711.8C318.9 710.9 325 707.7 330 706.1C335 704.5 340 703.1 345 702.1C350 701.1 355 701.2 360 700.4C365 699.5 369.2 697.9 375 697.1C380.9 696.3 388 695.6 395.1 695.4C402.1 695.1 410.9 693.9 417.6 695.4C424.2 696.8 429.7 703 435.1 704.1C440.5 705.2 445.5 702 450.1 702.1C454.7 702.2 458.8 703.4 462.6 704.6C466.4 705.8 470.5 707.3 472.6 709.1C474.7 710.9 473.4 713.9 475.1 715.4C476.8 716.8 479.7 717.7 482.6 717.9C485.5 718.1 489.3 717.1 492.6 716.6C496 716.1 499.7 714.8 502.6 714.9C505.6 714.9 506.4 716.5 510.1 717.1C513.9 717.7 521 718 525.1 718.4C529.3 718.8 531.8 720.1 535.1 719.6C538.5 719.1 541.8 716.5 545.2 715.4C548.5 714.2 551.4 711.4 555.2 712.9C558.9 714.3 563.5 721.8 567.7 724.1C571.8 726.4 576 726 580.2 726.6C584.4 727.2 588.9 727 592.7 727.9C596.5 728.7 599.8 730 602.7 731.6C605.6 733.3 608.5 736 610.2 737.9C611.9 739.8 611 741.2 612.7 742.9C614.4 744.5 618.1 744.8 620.2 747.9C622.3 751 623.6 758 625.2 761.6C626.9 765.3 628 767.7 630 769.6C632 771.5 635 771.4 637.5 773.1C640 774.7 642.9 778.2 645 779.6C647.1 780.9 647.9 782.1 650 781.3C652.1 780.5 654.6 777 657.5 774.6C660.4 772.1 667.1 769.8 667.5 766.8C667.9 763.8 661.4 758.9 660 756.3C658.7 753.7 658.9 752.2 659.5 751.3C660.1 750.3 662 749.7 663.8 750.5C665.5 751.4 668.2 754.3 670 756.3C671.9 758.3 672.5 760.6 675 762.5C677.5 764.5 680.9 766.9 685 768C689.2 769.2 696.3 768.3 700 769.3C703.8 770.4 704.2 773.1 707.6 774.3C710.9 775.6 716.3 776.6 720.1 776.8C723.8 777 726.7 776.8 730.1 775.6C733.4 774.3 737.2 770.9 740.1 769.3C743 767.8 745.1 766.7 747.6 766.3C750.1 765.9 753.4 766.3 755.1 766.8C756.8 767.3 755.1 769.2 757.6 769.3C760.1 769.4 766.4 767.5 770.1 767.5C773.9 767.5 777.2 769.4 780.1 769.3C783 769.2 784.7 767.1 787.6 766.8C790.5 766.5 794.7 766.3 797.6 767.5C800.5 768.8 802.2 773 805.1 774.6C808 776.1 813.1 777 815.1 777.1C817.2 777.1 816 775 817.6 775.1C819.3 775.1 823.1 777 825.1 777.6C827.2 778.1 827.2 778.4 830.1 778.3C833.1 778.2 839.3 776.5 842.7 777.1C846 777.6 846.4 780.7 850.2 781.8C853.9 782.9 861.8 782.7 865.2 783.8C868.5 785 868.9 786.9 870.2 788.8C871.4 790.7 871 793.5 872.7 795.1C874.3 796.6 877.7 797.2 880.2 798.1C882.7 798.9 885.2 798.7 887.7 800.1C890.2 801.5 893.4 805.7 895.2 806.3C897 807 897.6 805.5 898.2 803.8C898.8 802.2 898.2 798.2 899 796.3C899.7 794.5 900.4 793.7 902.7 792.6C905 791.4 909.8 790 912.7 789.6C915.6 789.2 918.2 790.1 920.2 790.1C922.3 790.1 922.1 789.4 925 789.6C927.9 789.8 933.4 790 937.5 791.3C941.7 792.7 946.7 795.7 950 797.6C953.4 799.5 955.5 800.7 957.5 802.6C959.6 804.5 959.6 807.6 962.5 808.8C965.5 810.1 971.3 809.5 975.1 810.1C978.8 810.7 981.7 811.5 985.1 812.6C988.4 813.6 991.7 815.1 995.1 816.3C998.4 817.6 1002.2 818.6 1005.1 820.1C1008 821.6 1010.1 823 1012.6 825.1C1015.1 827.2 1017.6 830.5 1020.1 832.6C1022.6 834.7 1025.1 835.9 1027.6 837.6C1030.1 839.3 1033.6 840.3 1035.1 842.6C1036.6 844.9 1034.7 848.9 1036.3 851.4C1038 853.9 1042.4 855.5 1045.1 857.6C1047.8 859.7 1050.1 862 1052.6 863.9C1055.1 865.8 1056.8 867.6 1060.1 868.9C1063.5 870.1 1069.3 870.4 1072.6 871.4C1076 872.3 1078.5 873.2 1080.1 874.6C1081.8 876.1 1082.1 875.6 1082.6 880.1C1083.1 884.6 1083.1 898.1 1083.1 901.6L1083.1 921.3 L14.700000000000003 921.3 Z" fill="#f4d080" stroke="#fff" stroke-opacity="0.85" stroke-width="0.9" stroke-linejoin="round"/>
<path d="M181.4 901.6C181.4 898.3 179.9 886.2 181.4 881.4C182.8 876.6 187.4 876.2 190.1 872.6C192.8 869.1 195.1 864.1 197.6 860.1C200.1 856.2 202.2 852.8 205.1 848.9C208 844.9 212.4 839.5 215.1 836.4C217.8 833.2 218.9 831.4 221.4 830.1C223.9 828.8 227.9 830.7 230.2 828.9C232.4 827 233.9 820.3 235.2 818.8C236.4 817.4 237 818.8 237.7 820.1C238.3 821.3 238.1 825.1 238.9 826.4C239.7 827.6 241.2 828.2 242.7 827.6C244.1 827 246.6 824.3 247.7 822.6C248.7 820.9 248.1 818.6 248.9 817.6C249.7 816.5 251.2 816.1 252.7 816.3C254.1 816.5 256.8 816.5 257.7 818.8C258.5 821.1 256.8 827.6 257.7 830.1C258.5 832.6 260.2 833.4 262.7 833.9C265.2 834.3 269.8 833 272.7 832.6C275.6 832.2 278.5 831.4 280.2 831.4C281.9 831.4 281 832.8 282.7 832.6C284.4 832.4 288.5 832.2 290.2 830.1C291.9 828 292.3 823.4 292.7 820.1C293.1 816.8 291.7 812.7 292.7 810.1C293.7 807.5 297.1 805.2 298.9 804.6C300.8 804 302.3 805 304 806.3C305.6 807.7 307.3 812 309 812.6C310.6 813.2 311.7 810.6 314 810.1C316.3 809.6 320 809.5 322.7 809.6C325.4 809.7 327.1 811.6 330 810.6C332.9 809.6 338.1 805.6 340 803.8C341.9 802.1 339.6 800.3 341.3 800.1C342.9 799.9 346.5 802.9 350 802.6C353.6 802.2 360 797.2 362.5 798.1C365 799 362.9 807.1 365 808.1C367.1 809 371.3 805.1 375 803.8C378.8 802.6 383 801.5 387.5 800.6C392.1 799.6 398.4 798.2 402.6 798.1C406.7 798 409.2 800.1 412.6 800.1C415.9 800.1 419.6 797 422.6 798.1C425.5 799.1 427.6 803.7 430.1 806.3C432.6 809 433.8 811.8 437.6 813.8C441.3 815.9 448.4 816.1 452.6 818.8C456.8 821.6 459.7 827.2 462.6 830.1C465.5 833 467.4 835.3 470.1 836.4C472.8 837.4 477.3 835.8 478.9 836.4C480.4 836.9 480.9 838.8 479.6 839.6C478.4 840.4 471.1 841.1 471.4 841.4C471.7 841.7 479.5 840.5 481.4 841.4C483.2 842.2 480.3 844.5 482.6 846.4C484.9 848.2 490.5 850.5 495.1 852.6C499.7 854.7 505.1 857.2 510.1 858.9C515.1 860.5 519.7 861.9 525.1 862.6C530.6 863.3 536.8 862.7 542.7 863.1C548.5 863.5 554.8 864.4 560.2 865.1C565.6 865.9 571 867 575.2 867.6C579.3 868.3 581.9 867.8 585.2 868.9C588.5 869.9 592.5 871.6 595.2 873.9C597.9 876.2 599.6 879.3 601.5 882.6C603.3 886 604.2 892.2 606.5 893.9C608.8 895.6 611.3 893.3 615.2 892.6C619.1 892 625.9 891.2 630 890.1C634.1 889.1 636.7 886.9 640 886.4C643.3 885.9 647.1 886.5 650 887.1C652.9 887.8 655.6 887.7 657.5 890.1C659.4 892.6 660.6 899.7 661.3 901.6L661.3 921.3 L181.4 921.3 Z" fill="#feea82" stroke="#fff" stroke-opacity="0.85" stroke-width="0.9" stroke-linejoin="round"/>
<path d="M596.7 493C596.4 491.7 596.9 489.7 597.7 488.5C598.4 487.4 599.8 486.5 601.2 486C602.6 485.6 604.7 485.5 606.2 485.8C607.7 486.1 608.9 487 610.2 487.8C611.6 488.6 613.2 489.5 614.2 490.5C615.3 491.6 616.2 492.9 616.8 494.1C617.2 495.2 617.6 496.4 617.2 497.6C616.9 498.7 615.8 500.2 614.8 501.1C613.7 501.9 612.5 502.5 611.2 502.6C610 502.7 608.6 502.2 607.2 501.6C605.9 501 604.5 499.9 603.2 499.1C601.9 498.2 600.3 497.6 599.2 496.6C598.1 495.5 596.9 494.4 596.7 493Z" fill="none" stroke="#fff" stroke-opacity="0.85" stroke-width="0.9" stroke-linejoin="round"/>
<path d="M600.2 491.5C600.5 490.6 601.2 489.1 602.2 488.5C603.2 488 604.7 487.9 606.2 488.2C607.7 488.6 609.8 489.6 611.2 490.5C612.7 491.5 614.1 493 614.8 494.1C615.4 495.1 615.5 496.1 615.2 497.1C615 498.1 614.1 499.4 613.2 500.1C612.4 500.7 611.4 501.2 610.2 501.1C609.1 501 607.5 500.3 606.2 499.6C605 498.8 603.6 497.5 602.7 496.6C601.8 495.6 601.1 494.9 600.7 494.1C600.3 493.2 599.9 492.5 600.2 491.5Z" fill="#e58c3c" stroke="#fff" stroke-opacity="0.85" stroke-width="0.9" stroke-linejoin="round"/>
<path d="M603.7 493C603.8 492.5 604.3 492 605.2 492C606.1 492.1 608.1 492.9 609.2 493.5C610.4 494.2 611.7 495.3 612.2 496.1C612.8 496.8 613.1 497.6 612.7 498.1C612.4 498.5 611.1 498.6 610.2 498.6C609.3 498.5 608.1 498.1 607.2 497.6C606.3 497.1 605.3 496.3 604.7 495.6C604.1 494.8 603.6 493.6 603.7 493Z" fill="#eba54a" stroke="#fff" stroke-opacity="0.85" stroke-width="0.9" stroke-linejoin="round"/>
<path d="M753.8 611.5C753.8 609.5 755.7 607.8 757.6 606.5C759.5 605.3 763 603.8 765.1 604C767.2 604.2 768.9 606.1 770.1 607.8C771.4 609.4 771.4 612.2 772.6 614C773.9 615.9 777.6 617.7 777.6 619C777.6 620.4 774.7 621.6 772.6 622C770.5 622.5 767.6 622.1 765.1 621.5C762.6 621 759.5 620.2 757.6 618.5C755.7 616.9 753.8 613.5 753.8 611.5Z" fill="#eba54a" stroke="#fff" stroke-opacity="0.85" stroke-width="0.9" stroke-linejoin="round"/>
<path d="M555.2 776.7C554.8 775.3 555.6 772.4 556.4 770.4C557.3 768.4 558.8 765.9 560.2 764.9C561.5 763.9 563.8 763 564.7 764.1C565.6 765.3 565.8 769.4 565.7 771.7C565.6 774 565.1 776.7 563.9 777.9C562.8 779.1 560.4 778.9 558.9 778.7C557.5 778.5 555.6 778 555.2 776.7Z" fill="#eba54a" stroke="#fff" stroke-opacity="0.85" stroke-width="0.9" stroke-linejoin="round"/>
<path d="M328 782.6C328.8 780.1 330.9 780.3 332.5 780.1C334.1 779.8 336.5 780.1 337.5 781.3C338.6 782.6 339 785.5 338.8 787.6C338.6 789.7 337.3 792.2 336.2 793.8C335.2 795.4 333.9 796.9 332.5 797.1C331.1 797.3 328.8 797.5 328 795.1C327.2 792.7 327.2 785.1 328 782.6Z" fill="#feea82" stroke="#fff" stroke-opacity="0.85" stroke-width="0.9" stroke-linejoin="round"/>
<path d="M344.5 781.3C345.1 780.1 347.2 778.4 348.8 778.8C350.3 779.2 352.3 782.2 353.8 783.8C355.2 785.5 357.1 787.2 357.5 788.8C357.9 790.5 357.3 792.7 356.3 793.8C355.2 794.9 352.7 796 351.3 795.6C349.8 795.2 348.6 792.9 347.5 791.3C346.5 789.8 345.5 788 345 786.3C344.5 784.7 343.9 782.6 344.5 781.3Z" fill="#feea82" stroke="#fff" stroke-opacity="0.85" stroke-width="0.9" stroke-linejoin="round"/>
<path d="M899.7 808.8C900.2 807.7 901.4 806.7 902.2 807.1C903 807.5 904.3 809.6 904.5 811.3C904.6 813.1 903.9 816.3 903.2 817.6C902.5 818.8 900.9 819.5 900.2 818.8C899.5 818.2 899 815.5 899 813.8C898.9 812.2 899.2 810 899.7 808.8Z" fill="#eba54a" stroke="#fff" stroke-opacity="0.85" stroke-width="0.9" stroke-linejoin="round"/>
<path d="M220.1 870.1C220.1 869.3 220.6 867.4 221.4 866.4C222.1 865.4 224.2 863.8 224.7 864.1C225.1 864.4 224.4 866.9 223.9 868.1C223.4 869.3 222 871 221.4 871.4C220.8 871.7 220.1 871 220.1 870.1Z" fill="#f4d080" stroke="#fff" stroke-opacity="0.85" stroke-width="0.9" stroke-linejoin="round"/>
<path d="M296.4 821.3C296.8 820.6 298 819.5 298.9 819.6C299.9 819.7 302 821.3 302.2 822.1C302.4 822.9 301.1 824.3 300.2 824.6C299.3 824.9 297.6 824.4 296.9 823.9C296.3 823.3 296.1 822.1 296.4 821.3Z" fill="#f4d080" stroke="#fff" stroke-opacity="0.85" stroke-width="0.9" stroke-linejoin="round"/>
<path d="M238.9 841.4C239.1 840.7 240.2 839.5 240.7 839.6C241.1 839.7 241.8 841.5 241.7 842.1C241.5 842.7 240.1 843.5 239.7 843.4C239.2 843.2 238.7 842 238.9 841.4Z" fill="none" stroke="#fff" stroke-opacity="0.85" stroke-width="0.9" stroke-linejoin="round"/>
<path d="M242.7 837.1C242.8 836.6 244 835.5 244.4 835.6C244.9 835.7 245.5 837.1 245.4 837.6C245.3 838.2 244.1 838.9 243.7 838.9C243.2 838.8 242.5 837.7 242.7 837.1Z" fill="none" stroke="#fff" stroke-opacity="0.85" stroke-width="0.9" stroke-linejoin="round"/>
<path d="M1122 459.6C1122 460.6 1121.8 461.8 1121.5 462.6C1121.3 463.5 1120.8 464.2 1120.4 464.5C1120 464.9 1119.4 464.9 1119 464.5C1118.5 464.2 1118.1 463.5 1117.8 462.6C1117.5 461.8 1117.4 460.6 1117.4 459.6C1117.4 458.6 1117.5 457.4 1117.8 456.5C1118.1 455.7 1118.5 455 1119 454.6C1119.4 454.3 1120 454.3 1120.4 454.6C1120.8 455 1121.3 455.7 1121.5 456.5C1121.8 457.4 1122 458.6 1122 459.6Z" fill="#e58c3c" stroke="#fff" stroke-opacity="0.85" stroke-width="0.9" stroke-linejoin="round"/>
<path d="M1125.7 472.1C1125.7 472.8 1125.6 473.7 1125.4 474.2C1125.2 474.8 1124.8 475.3 1124.5 475.5C1124.1 475.7 1123.7 475.7 1123.4 475.5C1123 475.3 1122.7 474.8 1122.5 474.2C1122.3 473.7 1122.1 472.8 1122.1 472.1C1122.1 471.4 1122.3 470.6 1122.5 470C1122.7 469.4 1123 468.9 1123.4 468.7C1123.7 468.5 1124.1 468.5 1124.5 468.7C1124.8 468.9 1125.2 469.4 1125.4 470C1125.6 470.6 1125.7 471.4 1125.7 472.1Z" fill="#e58c3c" stroke="#fff" stroke-opacity="0.85" stroke-width="0.9" stroke-linejoin="round"/>
<path d="M1123.2 488.4C1123.2 488.6 1123.1 488.9 1122.9 489.1C1122.7 489.3 1122.3 489.4 1122 489.5C1121.6 489.6 1121.2 489.6 1120.9 489.5C1120.5 489.4 1120.2 489.3 1120 489.1C1119.8 488.9 1119.6 488.6 1119.6 488.4C1119.6 488.1 1119.8 487.9 1120 487.7C1120.2 487.5 1120.5 487.3 1120.9 487.2C1121.2 487.2 1121.6 487.2 1122 487.2C1122.3 487.3 1122.7 487.5 1122.9 487.7C1123.1 487.9 1123.2 488.1 1123.2 488.4Z" fill="none" stroke="#fff" stroke-opacity="0.85" stroke-width="0.9" stroke-linejoin="round"/>
<path d="M1117.5 492.1C1117.5 492.4 1117.3 492.6 1117.1 492.8C1116.9 493 1116.6 493.2 1116.2 493.3C1115.9 493.3 1115.4 493.3 1115.1 493.3C1114.8 493.2 1114.4 493 1114.2 492.8C1114 492.6 1113.9 492.4 1113.9 492.1C1113.9 491.9 1114 491.6 1114.2 491.4C1114.4 491.2 1114.8 491.1 1115.1 491C1115.4 490.9 1115.9 490.9 1116.2 491C1116.6 491.1 1116.9 491.2 1117.1 491.4C1117.3 491.6 1117.5 491.9 1117.5 492.1Z" fill="none" stroke="#fff" stroke-opacity="0.85" stroke-width="0.9" stroke-linejoin="round"/>
<path d="M1001.2 510.6C1001.2 511 1001 511.5 1000.7 511.8C1000.3 512.1 999.8 512.4 999.3 512.5C998.7 512.6 998.1 512.6 997.5 512.5C997 512.4 996.5 512.1 996.1 511.8C995.8 511.5 995.6 511 995.6 510.6C995.6 510.2 995.8 509.7 996.1 509.4C996.5 509.1 997 508.8 997.5 508.7C998.1 508.6 998.7 508.6 999.3 508.7C999.8 508.8 1000.3 509.1 1000.7 509.4C1001 509.7 1001.2 510.2 1001.2 510.6Z" fill="#dc7d3c" stroke="#fff" stroke-opacity="0.85" stroke-width="0.9" stroke-linejoin="round"/>
<path d="M981 523.8C981 524.4 980.8 525.1 980.6 525.6C980.3 526 979.9 526.5 979.5 526.6C979.1 526.8 978.5 526.8 978.1 526.6C977.7 526.5 977.3 526 977 525.6C976.8 525.1 976.6 524.4 976.6 523.8C976.6 523.2 976.8 522.5 977 522C977.3 521.6 977.7 521.1 978.1 521C978.5 520.8 979.1 520.8 979.5 521C979.9 521.1 980.3 521.6 980.6 522C980.8 522.5 981 523.2 981 523.8Z" fill="#dc7d3c" stroke="#fff" stroke-opacity="0.85" stroke-width="0.9" stroke-linejoin="round"/>
<path d="M948.3 532.5C948.7 531.5 950.3 529.8 951.7 529.7C953.1 529.5 955.6 530.8 956.7 531.7C957.7 532.5 958.6 533.8 958 534.7C957.4 535.6 954.7 536.8 953.3 537C951.9 537.2 950.5 536.6 949.7 535.8C948.8 535.1 948 533.5 948.3 532.5Z" fill="#dc7d3c" stroke="#fff" stroke-opacity="0.85" stroke-width="0.9" stroke-linejoin="round"/>
<path d="M914.2 541.7C914.4 540.8 915.9 539.9 916.7 540.3C917.4 540.7 919.1 543.3 918.8 544.2C918.6 545 915.8 545.7 915 545.3C914.2 544.9 913.9 542.5 914.2 541.7Z" fill="none" stroke="#fff" stroke-opacity="0.85" stroke-width="0.9" stroke-linejoin="round"/>
<path d="M913.8 541.7C914.2 540.9 916.7 540.4 917.5 540.9C918.3 541.4 919.2 543.9 918.8 544.7C918.3 545.4 915.8 545.9 915 545.4C914.2 544.9 913.3 542.4 913.8 541.7Z" fill="none" stroke="#fff" stroke-opacity="0.85" stroke-width="0.9" stroke-linejoin="round"/>
<path d="M915 635C915 633.9 917 631.9 918 632C919 632.1 920.8 634.3 920.8 635.3C920.8 636.4 919 638.4 918 638.3C917 638.3 915 636.1 915 635Z" fill="#e58c3c" stroke="#fff" stroke-opacity="0.85" stroke-width="0.9" stroke-linejoin="round"/>
<path d="M536.7 501.9C536.6 501.3 538 499.9 538.7 499.9C539.4 499.9 540.8 501.3 540.8 501.9C540.9 502.5 539.7 503.6 539 503.6C538.3 503.6 536.7 502.5 536.7 501.9Z" fill="#ee063c" stroke="#fff" stroke-opacity="0.85" stroke-width="0.9" stroke-linejoin="round"/>
<path d="M573.6 515.1C573.7 514.6 574.6 513.8 575.6 513.6C576.6 513.4 578.8 513.6 579.6 513.9C580.4 514.2 580.5 514.9 580.3 515.3C580.2 515.8 579.5 516.4 578.6 516.6C577.8 516.8 576 516.9 575.1 516.6C574.3 516.4 573.5 515.6 573.6 515.1Z" fill="#ee063c" stroke="#fff" stroke-opacity="0.85" stroke-width="0.9" stroke-linejoin="round"/>
<path d="M465.1 534.4C465.3 534 466.3 533.3 467.1 533.2C468 533 469.5 533.1 470.1 533.4C470.7 533.6 470.9 534.3 470.6 534.7C470.4 535.1 469.4 535.5 468.6 535.7C467.9 535.8 466.7 535.9 466.1 535.7C465.5 535.5 465 534.8 465.1 534.4Z" fill="#e58c3c" stroke="#fff" stroke-opacity="0.85" stroke-width="0.9" stroke-linejoin="round"/>
<path d="M623.3 510.1C623.4 509.3 624.5 509.1 625.3 509.3C626 509.5 627.1 510.2 627.8 511.1C628.5 512 629.1 513.6 629.3 514.6C629.5 515.6 629.2 516.8 628.8 517.1C628.4 517.5 627.5 517.1 626.8 516.6C626.1 516.1 625.4 515.2 624.8 514.1C624.2 513 623.2 510.9 623.3 510.1Z" fill="#e58c3c" stroke="#fff" stroke-opacity="0.85" stroke-width="0.9" stroke-linejoin="round"/>
<path d="M633.6 516.1C633.6 516.4 633.5 516.8 633.4 517C633.2 517.2 633 517.5 632.7 517.5C632.5 517.6 632.1 517.6 631.9 517.5C631.7 517.5 631.4 517.2 631.2 517C631.1 516.8 631 516.4 631 516.1C631 515.8 631.1 515.5 631.2 515.2C631.4 515 631.7 514.8 631.9 514.7C632.1 514.6 632.5 514.6 632.7 514.7C633 514.8 633.2 515 633.4 515.2C633.5 515.5 633.6 515.8 633.6 516.1Z" fill="none" stroke="#fff" stroke-opacity="0.85" stroke-width="0.9" stroke-linejoin="round"/>
<path d="M426.7 415C426.9 414.6 428.3 414.1 429.2 414C430 413.9 431.3 414.3 431.7 414.7C432 415.1 431.9 416 431.3 416.3C430.7 416.7 428.8 416.9 428 416.7C427.2 416.4 426.5 415.4 426.7 415Z" fill="none" stroke="#fff" stroke-opacity="0.85" stroke-width="0.9" stroke-linejoin="round"/>
<path d="M767.6 315.2C767.6 314.3 768.6 312.1 769.1 312.2C769.6 312.2 770.6 314.8 770.6 315.7C770.6 316.5 769.6 317.2 769.1 317.2C768.6 317.1 767.6 316 767.6 315.2Z" fill="#6070f4" stroke="#fff" stroke-opacity="0.85" stroke-width="0.9" stroke-linejoin="round"/>
<path d="M92.6 106.65V901.3M186.9 106.65V901.3M281.1 106.65V901.3M375.4 106.65V901.3M469.7 106.65V901.3M563.9 106.65V901.3M658.2 106.65V901.3M752.5 106.65V901.3M846.8 106.65V901.3M941 106.65V901.3M1035.3 106.65V901.3M1129.6 106.65V901.3M41.55 103.9H1132.6M41.55 160.4H1132.6M41.55 217H1132.6M41.55 273.5H1132.6M41.55 330H1132.6M41.55 386.5H1132.6M41.55 443.1H1132.6M41.55 499.6H1132.6M41.55 556.1H1132.6M41.55 612.7H1132.6M41.55 669.2H1132.6M41.55 725.7H1132.6M41.55 782.3H1132.6M41.55 838.8H1132.6M41.55 895.3H1132.6" stroke="#a2a5a6" stroke-width="1.45" stroke-dasharray="2.3 7.52" fill="none"/>
<path d="M104.4 100L106.7 107.4L106.1 109.4L108.1 112.7L107.4 109.4L110.1 108.3L115.4 109.4L122.1 113.4L124.8 116.1L124.5 118.7L126.8 122.1L128.8 126.1L131.5 130.8L133.5 136.8L134.1 140.1L138.2 140.8L142.8 143.5L143.5 146.8L141.5 148.8L138.2 146.2L134.1 142.8L132.5 144.1L132.1 147.5L134.1 152.2L136.8 153.5L142.2 152.8L146.2 150.2L150.2 151.5L155.6 151.5L159.6 150.2L160.9 147.1L164.2 148.2L166.9 151.5L168.9 152.2L170.3 149.5L172.3 146.2L173.6 142.8L172.3 141.5L169.6 143.5L167.6 146.2L168.9 149.5M181.6 100L181.6 108L182.3 111.4L181 114.7L179.6 110.7L177 116.1L174.3 121.4L172.3 126.8L170.9 132.1L171.6 137.5L170.9 141.5L169.6 144.1L166.9 151.5M179 118.7L179.9 121.7M177.6 133.4L175.6 138.8M167.3 153.5L164.9 156.9L162.2 160.2M160.2 162.6L156.9 165.6M152.9 168.2L148.2 171.6M142.8 174L138.2 176.3L133.9 177.6M120.5 174.9L122.8 177.6L124.5 180.7L122.1 178.3L120.5 174.9M101.8 186.7L107.4 184.3L110.1 182.3L113.4 181.6L115.4 178.9L118.1 179.6M271.4 149.8L274.1 149.2L276.8 150.8L280.8 150.6L282.1 153.5L282.8 157.5L284.8 161.5L286.1 165.6L288.1 169.6L290.1 172.9L292.8 176.3L293.9 180.3L293.5 185.6L294.1 189.6L291.5 192.3L287.5 194.3L284.1 197.7L280.8 199.7L278.1 198.3L276.1 195L274.7 191.6L272.7 191L270.1 189L266.1 187L262.7 184.9L261.4 182.3L263.4 178.9L266.7 177.6L267.4 174.9L268.7 170.9L271.4 166.9L273.4 162.9L274.1 158.9L273.4 154.8ZM266.7 177.6L270.1 178.3L270.7 181.6L269.4 184.9L266.7 183.6L266.1 180.3ZM302.2 158.9L304.8 156.9L310.2 156.2L314.9 156.9L314.2 158.9L310.2 160.5L305.5 161.3ZM340.3 128.8L343 128.4L343.6 132.1L349 136.8L355.7 140.1L359.7 141.5L363.7 146.2L367.7 150.2L370.4 153.5L370.4 158.9L369.1 164.2L368.4 169.6L367.7 174.9L367.5 178.3L365.1 176.3L362.4 172.9L359.7 170.6L363 170.2L365.7 168.2L366.4 164.2L367.7 160.2L368.4 154.8L365.1 150.2L361 145.5L358.4 142.8L353 140.1L347.7 136.8L344.3 135.9L339.6 136.4L341 132.8ZM387.8 178.9L389.8 177.6L393.1 180.3L394.5 185.6L397.2 189.6L401.2 195L405.2 200.3L408.5 205.7L407.9 207.7L403.8 208.4L400.5 209.4L399.2 207L402.5 206.4L403.8 203L399.8 197.7L396.5 192.3L393.1 187L390.5 182.9ZM310.2 102L312.9 104L315.6 108L318.2 111L319.6 109.4L319.6 100M286.4 116.3L290.1 120.1M349.7 200.3L352.7 204.1M356.6 210.4L358.4 213.7L360 217.1L357.7 213L356.6 210.4M291.5 197.7L294.8 196.6L296.8 197.7M280.8 202.7L282.8 204.7L285.5 208L286.1 212L288.8 214.7L289.5 221.4L292.8 223.4L296.2 226.8L294.1 228.8L292.1 231L296.2 232.1L301.5 231L302.8 226.8L304.2 224.1L301.5 221.4L303.5 220.1L303.5 216.1L302.8 210.7L300.2 205.4L296.8 201.1L292.8 202L288.8 202.7L285.5 206L283.4 205.4M292.8 208L297.5 204L296.8 208L294.8 214ZM294.1 228.8L298.2 226.1L301.5 226.8M374.4 235.5L377.8 235.9L380.4 238.8L382.4 242.1L386.5 245.5L391.8 247.5L398.5 250.6L394.5 249.8L387.8 247.5L383.8 244.8L379.1 240.8L375.1 238.8ZM444.8 210L447.5 209.1L449.5 211.4L448.8 216.1L446.2 219.4L444.4 218.7L444.4 214ZM425.2 235.1L428.8 233.2L433.2 233.4L432.1 236.1L428.1 236.8ZM406.7 236.1L408.7 235.5L410 239.5L412.7 242.8L414 248.2L416.7 253.5L418.7 258.9L420.1 264.2L422.1 267.6L426.1 269.6L428.8 273.6L430.8 278.3L429.4 280.3L427.4 276.3L424.7 271.6L421.4 268.9L417.4 267.6L414 264.2L413.4 262.2L416.1 264.2L416.7 258.9L414 252.8L412 248.2L410.7 242.8L408.7 239.5ZM478.3 268.5L481.6 267.6L484.3 268.2L482.3 270.2L479.6 269.8ZM453.5 282.7L457.5 283.6L462.2 287L467.6 288.3L466.9 291.6L461.5 291L456.9 291.6L455.5 293.6L453.5 297.7L452.4 298.3L454.2 294.3L456.2 291L454.8 287ZM469.6 291L472.9 289.4L476.9 289.9L476.9 295L477.6 300.3L474.9 304.3L472.2 308.4L468.2 311L464.2 314.4L460.2 317.7L456.2 320.4L456.9 317.7L461.5 313.7L465.6 309.7L469.6 306.4L473.6 302.3L474.9 298.3L472.2 296.3L469.6 293.6ZM490.7 295.3L493.6 294.7L495.3 296.3M509.7 305L513.7 305L517.7 306.4L521.7 307.7L526.4 309L529.5 311.7L527.8 313.7L524.4 311.7L520.4 309.4L515.1 310.4L511 310L509 308.4ZM484.1 386.3L485.4 382.2L488.8 378.9L492.8 375.6L498.1 374.9L502.8 378.2L506.2 376.9L510.8 374.2L513.5 368.9L516.2 367.5L516.9 372.9L514.8 379.6L511.5 385.6L508.2 388.3L501.5 389.6L493.4 390.7L486.8 390.3L484.1 388.3ZM514.2 358.2L517.5 355.2L520.9 358.2L516.9 361.5L514.8 362.2ZM549 340.1L551 338.4L553.6 338.8L556.1 341.4L553.6 343.4L551 342.8ZM563 333.4L565.7 332.7L568.4 334.7L569 336.8L571.7 339.4L575.1 340.1L578.4 339.7L580.4 342.1L579.1 343.4L575.1 342.8L571.7 340.1L567 337.4L563.7 335.4L563 333.4M584.4 344.5L589.1 347.5M542.3 347.2L543.2 350.1M604.5 357.5L605.6 360.6M45.8 333.7L48.3 335L55 334.7L60.8 338.3L64.2 344.2L65.8 350.8L63.3 355.8L56.7 360L50 362.5L44.2 360L40 356.7L37 353.3L41.7 355L45.8 355L47.5 352.5L45 349.2L42.5 343.3L41.7 340L44.2 335.8ZM113.3 352.5L118.3 348.3L122.5 346.2L119.2 350L114.2 352.8ZM215.8 379.7L220 382M160 263.3L163.3 262.5M170 275L175 272.5L176.7 275.8M176.7 266.7L179.2 268.3M182.5 270L185 272M190 275L192.5 276M194.2 280L196.7 281M204.2 285L206.7 283.7L211.7 288.3L218.3 294.2L213.3 292L207.5 288ZM249.2 299.2L255 300L262.5 298L265.8 301.7L268.3 305.8L275 305.8L278.3 311.7L283.3 315L280 318.3L283.3 322.5L288.3 323.3L285.8 319.2L290 325L296.7 325.8L298.3 331.7L291.7 332.5L287.5 330.8L287.5 336.7L283.3 330L280.8 325.8L277.5 320.8L273.3 314.2L269.2 310L265.8 306.7L260 305.8L255.8 303.3L250 301.7ZM286.7 312.5L290 316.7L292.5 320.8M300.8 335L304.2 334.7L308.3 340L313.3 343.3L318.3 347.5L323.3 352.5L320.8 358.3L316.7 359.2L315.8 355.8L319.2 353.3L313.3 350.8L308.3 346.7L304.2 341.7L300.8 337.5ZM215.8 380L220 382.5M225.8 387.5L230 391.7L235 395M236.7 396.7L240 398.3M255 403.3L260 402M259.2 408.7L265 412.5M210 290.8L218.3 294.2M230 292.5L236.7 292.5M33.3 276.3L40 272.5L46.7 275L51.7 271.7L60 271.7L66.7 270L73.3 265.8L80 263.3L88.3 262.5L96.7 265L105 265.8L111.7 265L115 268.3L116.7 270.8L123.3 266.7L132.5 261.7L129.2 265L131.7 270.8L134.2 272L138.3 269.2L146.7 265.8L149.2 265L153.3 266.3L158.3 267.5L161.7 272.5L168.3 275.8L175 277.5L180 278.3L186.7 277.5L193.3 280.8L200 285L203.3 288.3L206.7 293.3L211.7 300L216.7 305L221.7 307.5L231.7 307.5L243.3 308.3L246.7 311.7L247.5 309.2L253.3 312.5L260 315.8L266.7 320L273.3 322.5L278.3 325.8L281.7 330L286.7 335L291.7 338.3L296.7 341.7L303.3 343L308.3 344.2L313.3 347.5L318.3 350.8L323.3 352.5L328.3 356.7L333.3 361.7L337.5 364.2L334.2 368.3L338.3 365.8L343.3 366.7L341.7 370.8L345.8 369.2L350 374.2L353.3 371.7L358.3 370.8L363.3 374.2L368.3 377.5L370.8 381.3L376.7 380.8L383.3 380L389.2 379.7L393.3 382.5L394.7 387.5L391.7 390.8L389.2 393.3L386.7 398.3L388.3 403.3L393.3 400.8L398.3 399.2L403.3 403.3L408.3 405.8L411.7 402.5L416.7 404.2L423.3 404.2L430 405.8L435 409.2L440 414.2L445 420L450 423.3L455 425.8L460 425.8L463.3 429.2L463.3 434.2L460 437.5L453.3 438.7L445 439.7L436.7 440.8L430 441.7L425 445L420 447.5L416.7 449.2L417.5 443.3L418.3 440.8L415.8 444.2L414.2 446.7L412.5 448.3L406.7 449.7L398.3 450L390 447.5L381.7 445.8L373.3 444.7L363.3 444.2L353.3 445L343.3 446.7L335 448.3L328.3 449.7L320 450L310 451.3L301.7 452.5L295.8 453L293.7 450L295.8 445.8L300 440L300.8 441.7L306.7 436.7L313.3 431.7L320 426.7L321.7 421.7L324.7 417.5L321.7 412.5L318.3 409.2L316.7 405L311.7 402.5L306.7 404.2L300 405.3L293.3 404.2L285 402L280 403L274.2 398.3L268.3 392.5L265 388.3L259.2 385.8L257.5 380L257.5 373.3L255.8 368.3L254.2 361.7L250 355L247.5 351.3L240 352L231.7 353.3L225 355.8L218.3 355L211.7 351.7L205 349.2L200 346.7L195 347.5L193.3 345L186.7 343.3L180 339.2L173.3 335L168.3 330L165 325.8L162.5 322.5L163.3 319.7L165.8 320L167.5 323.3L165.8 326.7L161.7 326.7L153.3 326.7L145 327.5L138.3 325.8L134.2 321.7L132.5 315.3L130.3 315.8L130 326.7L128.3 322.5L125 324.2L121.7 320.8L116.7 319.2L111.7 318.3L105 320L100 318.3L96.7 315L90 311.7L85 307.5L87.5 305.8L95 305.8L103.3 305L108.3 302.5L109.2 297.5L104.2 293.3L96.7 291.7L88.3 292.5L80 290.3L68.3 291.3L59.2 290L55.8 291.7L53.3 295.8L46.7 300L41.7 304.2L38.3 310L33.3 311.3M390 391.7L388.3 395L391.7 394.2L396.7 397.5L399.2 400L395 400L390 396.7M120.6 477.6L123.1 477.1L123.8 480.9L128.8 479.1L135.1 480.1L135.6 482.6L130.1 484.1L123.8 484.6L121.3 483.4ZM181.4 462.1L187.6 459.6L183.1 461.6M192.6 460.1L198.9 456.3L197.6 459.1L193.1 460.3M265 537L269 531.6L280 530.4L286 526L296 528L306 530L316 531L324 533L332 534L340 541L350 545L359 548L362 554L365 560L361 563L352 564L344 560L338 558L333 563.6L328 564.4L324 562.4L320 567L322 572L320 573L316 569L310 564.4L300 565L293 563.6L288 557L283 552.4L279 545.6L276 544.4L266 543L264 540ZM497.7 452.6L503.5 449.2L511.9 446.7L520.3 446.7L527 445.9L533.6 448.4L540.3 451.7L547 455.1L548.7 457.6L551.2 455.9L557.1 457.6L563.7 460.1L568.8 460.1L570.4 462.6L572.1 460.1L576.3 459.3L577.1 455.1L580.5 450.9L585.5 448.7L590.5 450.1L595.5 451.7L600.5 450.9L600 452.7L604 450.1L608 447.4L613.4 447.4L618.7 449.4L622.7 452.7L626.8 455.4L632.1 456.8L636.1 455.4L640.1 458.1L644.1 462.1L649.5 464.1L654.8 463.4L657.5 461.4L661.5 462.1L663.5 466.1L664.2 471.5L665.6 476.8L668.2 480.8L672.2 482.8L677.6 482.2L682.9 480.8L688.3 481.5L692.3 480.2L695 479.5L695.7 482.8L697.7 484.8L695.7 488.2L691 488.9L684.3 488.2L677.6 487.5L676.3 490.2L676 493.5L678.9 494.2L684.3 493.1L688.3 495.6L693.6 498.2L699 499.3L703 500.2L707 498.2L711 499.6L715.1 500.9L719.1 503.3L723.1 507.6L727.1 511.6L731.1 515.6L735.1 519L737.8 522.3L736.5 526.3L733.8 530.3L731.8 535.7L728.4 536.8L725.1 535.7L724.4 539.7L722.4 543.7L717.7 545.1L715.7 542.4L713.7 537L711 533.7L707 532.7L703 533.7L699 532.3L693.6 531L687 531.9L680.3 533.3L676.9 531L672.9 531.9L669.6 530.1L664.2 529.7L658.9 531.7L656.2 534.3L653.5 538.4L650.8 542.4L646.8 543L640.1 543.7L634.8 544.8L632.1 542.4L631.4 537L630.1 533L627.4 531.9L624.7 533.7L623.4 536.4L618.7 537L613.4 541.7L610 539.7L607.4 541L606.7 545.1L607.2 547.1L606.4 552.1L604.7 557.1L602.2 561.3L598.9 565.5L596.4 570.5L593.8 575.5L590.5 577.2L588.8 574.6L585.5 570.5L582.1 568.8L581.3 563.8L578.8 558.8L575.5 554.6L572.1 550.4L568.8 547.1L563.7 544.5L557.1 542.9L550.4 542.4L543.7 542L537.8 543.7L537 546.2L530.3 547.1L523.6 548.4L516.9 547.1L510.2 545.4L503.5 543.7L498.5 541.2L491.8 542L486 543.7L481.8 547.1L480.1 550.4L479.3 554.6L475.1 553.7L473.4 548.7L470.1 545.4L465.1 542L460.1 539.5L455.1 538.7L450 537L447.5 533.7L447.5 528.7L449.2 523.6L451.7 520.3L456.7 518.6L463.4 518.6L468.4 521.1L473.4 523.6L478.5 525.3L481.8 526.2L479.3 524.5L480.1 521.1L483.5 521.1L486.8 523.6L484.3 527L488.5 526.2L493.5 527L500.2 527.8L506.9 528.7L513.6 530L520.3 531.2L527 532L531.1 530.3L533.6 527L537 524.5L543.7 525.3L547.9 523.6L548.7 518.6L545.4 515.3L542 513.6L538.7 510.3L535.3 506.9L532 503.6L528.6 500.2L526.1 496.9L527 494.4L530.3 492.7L531.1 488.5L528.6 486L527.8 481.8L530.3 478.5L531.1 475.2L527 474.3L523.6 471.8L520.3 469.3L515.3 466.8L510.2 465.1L503.5 465.1L497.7 463.4L495.2 460.9L495.2 456.8L497.7 452.6ZM577.1 459.3L578 463.4L578.8 470.1L578 475.2L576.3 480.2L577.1 483.5L580.5 486.9L582.1 490.2L580.5 494.4L577.1 498.6L573.8 500.2L571.3 501.1L575.5 502.7L577.1 506.9L578 511.9L577.1 515.3L575.5 518.6L572.1 521.1L568.8 522.8L565.4 521.1L562.9 520.3L563.7 523.6L567.1 527.8L572.1 532L576.3 536.2L577.1 540.4L575.5 545.4L575.5 550.4L576.3 554.6M504.4 501.9L508.6 501.9L513.6 503.6L518.6 506.1L523.6 508.6L526.1 511.9L525.3 515.3L521.9 514.4L516.9 512.8L511.9 510.3L506.9 506.9L504.4 504.4ZM519.9 438.7L525.3 437.5L531.1 440L533.6 442.5L528.6 442.5L522.8 440.9ZM573.8 526.2L578.8 524.5L583.8 526.2L587.2 528.7L585.5 531.7L580.5 532L576.3 530ZM562.9 520.3L564.6 523.6L567.1 527L568.8 529L566.3 527.3L563.7 524.5L562.1 522ZM483.8 551.2L487.7 550.7L489.3 552.1L486 552.9ZM586.8 578L588 579.7L586.8 581.3L586 579.7ZM716.4 546.4L719.1 545.3L723.7 546.1L725.1 548.4L721.7 549.3L717.7 548.8ZM790.8 529.2L795 526.3L801.7 527.5L810 528.7L820 529.2L830 528.7L838.3 530L843.3 531.7L841.7 529.7L848.3 530L855 531.7L860.8 534.2L864.7 535L864.2 540L865.8 543L862.5 544.7L858.3 546.7L855.8 550.8L855 554.2L851.7 556.7L846.7 557.5L841.7 559.2L835.8 560.8L831.7 558.3L826.7 558.7L823.3 557L820 558.3L815 557.5L810 556.7L805.8 559.7L802.5 560.3L799.2 558L795 559.2L790.8 560L790.3 555.8L790.8 550L791.7 545L790.8 540.8L788.3 539.2L786.7 535.8L789.2 533.7ZM867.5 550L871.7 547.5L876.7 546.7L881.3 547.5L878.3 550L873.3 551.3L869.2 551.7ZM878.3 537L882 538.3L881.3 540.3L879.2 539.2ZM892.5 535.3L897.5 535L901.7 537.5L899.2 538.7L895 537.2ZM905.8 535.8L908.3 535L908.3 538.3L905.8 538.3ZM908.3 533L912.5 530.8L913.3 532.5L910 534.7ZM921.3 514.2L925.8 514.7L928.3 516.3L924.2 515.5ZM921.7 528L925 527.5L922.5 530.3ZM900 568.3L905 568.3L910.8 569.7L914.7 570.3L910 572.5L905 573.7L899.7 573.8ZM980.3 546.3L985.8 541.7L988.7 541.3L987.5 544.2L982.5 546.3ZM981.7 551.3L985 550L988 550.8L987.5 554.7L984.2 555ZM994.2 560L996.7 561.3M988.3 584.2L989.7 586.3L988.7 585.8L988.3 584.2M994.7 590.8L997.5 589.7L1000.8 592.5L1003.3 596.7L1005.8 600L1003.3 599.2L999.2 596.7L995.8 594.2ZM1006.3 601.7L1009.7 601.3L1010.3 605L1008.3 607.5L1006.3 605.8ZM1041.3 573.3L1045 573.3L1048 576.3L1047.5 580.8L1044.7 581.7L1042 578.3ZM1040.8 605L1044.2 603.3L1048.3 604.7L1050.3 608.3L1049.2 612.5L1045.8 613.7L1042 611.7L1040.3 608.3ZM1025 623.3L1027 623L1029.2 627.5L1028 630.8L1025.3 630L1024.7 626.7ZM1044.9 651.6L1046.7 649.8L1050.2 649.6L1053.7 651.6L1056 655.1L1055.8 659.2L1056.6 663.8L1055.8 667.9L1053.7 670.3L1051.3 671.8L1049 670.3L1047.3 667.3L1046.1 662.7L1045.3 658L1044.9 654.5ZM1057.2 643.4L1059.5 640.7L1062.4 641.1L1063.9 644L1063.6 647.5L1066.5 650.4L1071.2 652.8L1074.7 655.1L1070 655.4L1065.3 656.6L1061.8 657.8L1058.3 657.4L1056 655.1L1057.8 651.6L1058.9 648.7L1057.8 646.3ZM1078.8 651.6L1083.4 649.3L1081.7 651L1079.3 652.4ZM1066.5 673.2L1067.7 670.6L1070 669.7L1072.6 670.6L1073.5 673.2L1072.6 675.7L1070 676.7L1067.7 675.7ZM1060.1 690.4L1063.6 690.7L1067.7 693.6L1070 697.7L1070.9 702.9L1070.6 709.3L1068.3 712.8L1065.9 714.2L1064.2 710.5L1063 705.8L1061.3 701.2L1059.5 696.5L1059.5 693ZM1071.4 734.9L1072.9 732.6L1075.8 732.2L1079.9 734.3L1083.4 737.3L1085.8 739.6L1086.9 739.2L1086.3 742.5L1088.1 745.4L1089.8 749.5L1091 753.6L1091.2 756.5L1089.3 759.8L1088.1 757.7L1084 755.9L1080.5 755.6L1077.6 754.8L1077.6 752.4L1080.5 751.6L1081.7 749.5L1079.3 748.9L1077 746L1074.7 742.5L1072.9 738.4ZM1081.7 781L1084 777.7L1086.3 777.3L1087.7 780.4L1088.4 785.7L1087.7 791.5L1086.9 796.2L1085.2 798.7L1082.3 796.8L1079.9 794.4L1078.8 789.8L1079.3 785.1ZM1070 821.3L1072.3 817.8L1075.3 817.2L1076.8 820.1L1076.8 825.3L1075.8 829.4L1073.5 830.6L1070.6 829.4L1069.1 825.9ZM1069.4 839.3L1072.3 836.5L1073.5 836.1L1071.3 839.1ZM1067.1 856.2L1068.4 853.2M1059.1 869.4L1062.3 865.9L1062.9 869.9ZM34.5 722.5L40 726.3L34.5 730M34.5 750L37.5 761.3L34.5 770.1M55 761L58.3 758L58.8 762.1ZM106.1 861.4L107.8 860.9L107.3 868.1L106.1 867.6ZM122.3 817.6L123.6 816.6L123.1 820.6ZM551.4 901.7L555.2 892.6L556.4 882.6L562.7 880.6L566.4 885.1L570.2 880.1L575.2 873.9L580.2 870.1L585.2 868.9L592.7 872.6L600.2 877.6L605.2 890.1L606.5 895.2L596.4 901.7M563.9 881.4L567.7 880.1L568.9 883.9L565.7 886.4ZM576.4 871.4L579.7 870.1L580.2 873.1L577.2 874.1ZM655 860.1L658.8 862.1L663.8 868.9L664.5 871.4L660 869.6L656.3 865.1ZM697.6 874.6L701.3 873.9L705.1 880.1L712.6 886.4L717.1 891.4L713.8 892.6L706.3 887.6L701.3 882.6L698.1 878.9ZM733.1 878.9L736.3 877.6L743.1 882.6L743.8 888.9L741.3 893.9L738.8 888.9L737.6 883.9L733.8 882.1ZM643.8 901.7L647.5 892.6L651.3 887.6L657.5 883.9L662.5 887.6L666.3 895.2L667.5 901.7M755.1 550.9L757.1 548.7L759.6 549.2L760.1 552.2L757.6 553.4Z" fill="none" stroke="#000" stroke-width="1.15" stroke-linejoin="round" stroke-linecap="round"/>
</g>
<path fill-rule="evenodd" fill="#fff" d="M0 0H1200V927H0Z M34.7 102.1V901.3H1132.6V102.1Z"/>
<text x="4.4" y="109" textLength="20.6" font-family="Liberation Sans, sans-serif" font-size="13.4" fill="#9b9b9b" stroke="#9b9b9b" stroke-width="0.5" lengthAdjust="spacingAndGlyphs">26N</text>
<path d="M28.3 104H30.8" stroke="#a6a6a6" stroke-width="1.1"/>
<text x="4.4" y="165.5" textLength="20.6" font-family="Liberation Sans, sans-serif" font-size="13.4" fill="#9b9b9b" stroke="#9b9b9b" stroke-width="0.5" lengthAdjust="spacingAndGlyphs">25N</text>
<path d="M28.3 160.5H30.8" stroke="#a6a6a6" stroke-width="1.1"/>
<text x="4.4" y="222.1" textLength="20.6" font-family="Liberation Sans, sans-serif" font-size="13.4" fill="#9b9b9b" stroke="#9b9b9b" stroke-width="0.5" lengthAdjust="spacingAndGlyphs">24N</text>
<path d="M28.3 217.1H30.8" stroke="#a6a6a6" stroke-width="1.1"/>
<text x="4.4" y="278.6" textLength="20.6" font-family="Liberation Sans, sans-serif" font-size="13.4" fill="#9b9b9b" stroke="#9b9b9b" stroke-width="0.5" lengthAdjust="spacingAndGlyphs">23N</text>
<path d="M28.3 273.6H30.8" stroke="#a6a6a6" stroke-width="1.1"/>
<text x="4.4" y="335.1" textLength="20.6" font-family="Liberation Sans, sans-serif" font-size="13.4" fill="#9b9b9b" stroke="#9b9b9b" stroke-width="0.5" lengthAdjust="spacingAndGlyphs">22N</text>
<path d="M28.3 330.1H30.8" stroke="#a6a6a6" stroke-width="1.1"/>
<text x="4.4" y="391.6" textLength="20.6" font-family="Liberation Sans, sans-serif" font-size="13.4" fill="#9b9b9b" stroke="#9b9b9b" stroke-width="0.5" lengthAdjust="spacingAndGlyphs">21N</text>
<path d="M28.3 386.6H30.8" stroke="#a6a6a6" stroke-width="1.1"/>
<text x="4.4" y="448.2" textLength="20.6" font-family="Liberation Sans, sans-serif" font-size="13.4" fill="#9b9b9b" stroke="#9b9b9b" stroke-width="0.5" lengthAdjust="spacingAndGlyphs">20N</text>
<path d="M28.3 443.2H30.8" stroke="#a6a6a6" stroke-width="1.1"/>
<text x="4.4" y="504.7" textLength="20.6" font-family="Liberation Sans, sans-serif" font-size="13.4" fill="#9b9b9b" stroke="#9b9b9b" stroke-width="0.5" lengthAdjust="spacingAndGlyphs">19N</text>
<path d="M28.3 499.7H30.8" stroke="#a6a6a6" stroke-width="1.1"/>
<text x="4.4" y="561.2" textLength="20.6" font-family="Liberation Sans, sans-serif" font-size="13.4" fill="#9b9b9b" stroke="#9b9b9b" stroke-width="0.5" lengthAdjust="spacingAndGlyphs">18N</text>
<path d="M28.3 556.2H30.8" stroke="#a6a6a6" stroke-width="1.1"/>
<text x="4.4" y="617.8" textLength="20.6" font-family="Liberation Sans, sans-serif" font-size="13.4" fill="#9b9b9b" stroke="#9b9b9b" stroke-width="0.5" lengthAdjust="spacingAndGlyphs">17N</text>
<path d="M28.3 612.8H30.8" stroke="#a6a6a6" stroke-width="1.1"/>
<text x="4.4" y="674.3" textLength="20.6" font-family="Liberation Sans, sans-serif" font-size="13.4" fill="#9b9b9b" stroke="#9b9b9b" stroke-width="0.5" lengthAdjust="spacingAndGlyphs">16N</text>
<path d="M28.3 669.3H30.8" stroke="#a6a6a6" stroke-width="1.1"/>
<text x="4.4" y="730.8" textLength="20.6" font-family="Liberation Sans, sans-serif" font-size="13.4" fill="#9b9b9b" stroke="#9b9b9b" stroke-width="0.5" lengthAdjust="spacingAndGlyphs">15N</text>
<path d="M28.3 725.8H30.8" stroke="#a6a6a6" stroke-width="1.1"/>
<text x="4.4" y="787.4" textLength="20.6" font-family="Liberation Sans, sans-serif" font-size="13.4" fill="#9b9b9b" stroke="#9b9b9b" stroke-width="0.5" lengthAdjust="spacingAndGlyphs">14N</text>
<path d="M28.3 782.4H30.8" stroke="#a6a6a6" stroke-width="1.1"/>
<text x="4.4" y="843.9" textLength="20.6" font-family="Liberation Sans, sans-serif" font-size="13.4" fill="#9b9b9b" stroke="#9b9b9b" stroke-width="0.5" lengthAdjust="spacingAndGlyphs">13N</text>
<path d="M28.3 838.9H30.8" stroke="#a6a6a6" stroke-width="1.1"/>
<text x="4.4" y="900.4" textLength="20.6" font-family="Liberation Sans, sans-serif" font-size="13.4" fill="#9b9b9b" stroke="#9b9b9b" stroke-width="0.5" lengthAdjust="spacingAndGlyphs">12N</text>
<path d="M28.3 895.4H30.8" stroke="#a6a6a6" stroke-width="1.1"/>
<text x="81.7" y="918.8" textLength="21.8" font-family="Liberation Sans, sans-serif" font-size="13.4" fill="#9b9b9b" stroke="#9b9b9b" stroke-width="0.5" lengthAdjust="spacingAndGlyphs">82W</text>
<path d="M92.6 905.3V907.6" stroke="#a6a6a6" stroke-width="1.1"/>
<text x="176" y="918.8" textLength="21.8" font-family="Liberation Sans, sans-serif" font-size="13.4" fill="#9b9b9b" stroke="#9b9b9b" stroke-width="0.5" lengthAdjust="spacingAndGlyphs">80W</text>
<path d="M186.9 905.3V907.6" stroke="#a6a6a6" stroke-width="1.1"/>
<text x="270.2" y="918.8" textLength="21.8" font-family="Liberation Sans, sans-serif" font-size="13.4" fill="#9b9b9b" stroke="#9b9b9b" stroke-width="0.5" lengthAdjust="spacingAndGlyphs">78W</text>
<path d="M281.1 905.3V907.6" stroke="#a6a6a6" stroke-width="1.1"/>
<text x="364.5" y="918.8" textLength="21.8" font-family="Liberation Sans, sans-serif" font-size="13.4" fill="#9b9b9b" stroke="#9b9b9b" stroke-width="0.5" lengthAdjust="spacingAndGlyphs">76W</text>
<path d="M375.4 905.3V907.6" stroke="#a6a6a6" stroke-width="1.1"/>
<text x="458.8" y="918.8" textLength="21.8" font-family="Liberation Sans, sans-serif" font-size="13.4" fill="#9b9b9b" stroke="#9b9b9b" stroke-width="0.5" lengthAdjust="spacingAndGlyphs">74W</text>
<path d="M469.7 905.3V907.6" stroke="#a6a6a6" stroke-width="1.1"/>
<text x="553" y="918.8" textLength="21.8" font-family="Liberation Sans, sans-serif" font-size="13.4" fill="#9b9b9b" stroke="#9b9b9b" stroke-width="0.5" lengthAdjust="spacingAndGlyphs">72W</text>
<path d="M563.9 905.3V907.6" stroke="#a6a6a6" stroke-width="1.1"/>
<text x="647.3" y="918.8" textLength="21.8" font-family="Liberation Sans, sans-serif" font-size="13.4" fill="#9b9b9b" stroke="#9b9b9b" stroke-width="0.5" lengthAdjust="spacingAndGlyphs">70W</text>
<path d="M658.2 905.3V907.6" stroke="#a6a6a6" stroke-width="1.1"/>
<text x="741.6" y="918.8" textLength="21.8" font-family="Liberation Sans, sans-serif" font-size="13.4" fill="#9b9b9b" stroke="#9b9b9b" stroke-width="0.5" lengthAdjust="spacingAndGlyphs">68W</text>
<path d="M752.5 905.3V907.6" stroke="#a6a6a6" stroke-width="1.1"/>
<text x="835.9" y="918.8" textLength="21.8" font-family="Liberation Sans, sans-serif" font-size="13.4" fill="#9b9b9b" stroke="#9b9b9b" stroke-width="0.5" lengthAdjust="spacingAndGlyphs">66W</text>
<path d="M846.8 905.3V907.6" stroke="#a6a6a6" stroke-width="1.1"/>
<text x="930.1" y="918.8" textLength="21.8" font-family="Liberation Sans, sans-serif" font-size="13.4" fill="#9b9b9b" stroke="#9b9b9b" stroke-width="0.5" lengthAdjust="spacingAndGlyphs">64W</text>
<path d="M941 905.3V907.6" stroke="#a6a6a6" stroke-width="1.1"/>
<text x="1024.4" y="918.8" textLength="21.8" font-family="Liberation Sans, sans-serif" font-size="13.4" fill="#9b9b9b" stroke="#9b9b9b" stroke-width="0.5" lengthAdjust="spacingAndGlyphs">62W</text>
<path d="M1035.3 905.3V907.6" stroke="#a6a6a6" stroke-width="1.1"/>
<text x="1118.7" y="918.8" textLength="21.8" font-family="Liberation Sans, sans-serif" font-size="13.4" fill="#9b9b9b" stroke="#9b9b9b" stroke-width="0.5" lengthAdjust="spacingAndGlyphs">60W</text>
<path d="M1129.6 905.3V907.6" stroke="#a6a6a6" stroke-width="1.1"/>
<rect x="1144.15" y="98" width="18.5" height="806.5" fill="#dadada"/>
<rect x="1145.95" y="98.7" width="15.2" height="3" fill="#fff"/>
<rect x="1145.95" y="858.3" width="15.2" height="44.3" fill="#b8c8fc"/>
<rect x="1145.95" y="813.65" width="15.2" height="44.95" fill="#8cb0fc"/>
<rect x="1145.95" y="769" width="15.2" height="44.95" fill="#8094fa"/>
<rect x="1145.95" y="724.35" width="15.2" height="44.95" fill="#6070f4"/>
<rect x="1145.95" y="679.7" width="15.2" height="44.95" fill="#9b70a8"/>
<rect x="1145.95" y="635.05" width="15.2" height="44.95" fill="#e855a0"/>
<rect x="1145.95" y="590.4" width="15.2" height="44.95" fill="#ee063c"/>
<rect x="1145.95" y="545.75" width="15.2" height="44.95" fill="#dc7d3c"/>
<rect x="1145.95" y="501.1" width="15.2" height="44.95" fill="#e58c3c"/>
<rect x="1145.95" y="456.45" width="15.2" height="44.95" fill="#eba54a"/>
<rect x="1145.95" y="411.8" width="15.2" height="44.95" fill="#f4d080"/>
<rect x="1145.95" y="367.15" width="15.2" height="44.95" fill="#feea82"/>
<rect x="1145.95" y="322.5" width="15.2" height="44.95" fill="#fee800"/>
<rect x="1145.95" y="277.85" width="15.2" height="44.95" fill="#dde81a"/>
<rect x="1145.95" y="233.2" width="15.2" height="44.95" fill="#a6c864"/>
<rect x="1145.95" y="188.55" width="15.2" height="44.95" fill="#e6f0a0"/>
<rect x="1145.95" y="143.9" width="15.2" height="44.95" fill="#eef3d4"/>
<rect x="1145.95" y="101" width="15.2" height="43.2" fill="#ebebeb"/>
<path d="M1145.95 858.3H1161.15" stroke="#fff" stroke-opacity="0.8" stroke-width="0.9"/>
<text x="1165.4" y="862.9" font-family="Liberation Sans, sans-serif" font-size="13.2" fill="#000">5.64</text>
<path d="M1145.95 813.65H1161.15" stroke="#fff" stroke-opacity="0.8" stroke-width="0.9"/>
<text x="1165.4" y="818.25" font-family="Liberation Sans, sans-serif" font-size="13.2" fill="#000">5.652</text>
<path d="M1145.95 769H1161.15" stroke="#fff" stroke-opacity="0.8" stroke-width="0.9"/>
<text x="1165.4" y="773.6" font-family="Liberation Sans, sans-serif" font-size="13.2" fill="#000">5.664</text>
<path d="M1145.95 724.35H1161.15" stroke="#fff" stroke-opacity="0.8" stroke-width="0.9"/>
<text x="1165.4" y="728.95" font-family="Liberation Sans, sans-serif" font-size="13.2" fill="#000">5.676</text>
<path d="M1145.95 679.7H1161.15" stroke="#fff" stroke-opacity="0.8" stroke-width="0.9"/>
<text x="1165.4" y="684.3" font-family="Liberation Sans, sans-serif" font-size="13.2" fill="#000">5.688</text>
<path d="M1145.95 635.05H1161.15" stroke="#fff" stroke-opacity="0.8" stroke-width="0.9"/>
<text x="1165.4" y="639.65" font-family="Liberation Sans, sans-serif" font-size="13.2" fill="#000">5.7</text>
<path d="M1145.95 590.4H1161.15" stroke="#fff" stroke-opacity="0.8" stroke-width="0.9"/>
<text x="1165.4" y="595" font-family="Liberation Sans, sans-serif" font-size="13.2" fill="#000">5.712</text>
<path d="M1145.95 545.75H1161.15" stroke="#fff" stroke-opacity="0.8" stroke-width="0.9"/>
<text x="1165.4" y="550.35" font-family="Liberation Sans, sans-serif" font-size="13.2" fill="#000">5.724</text>
<path d="M1145.95 501.1H1161.15" stroke="#fff" stroke-opacity="0.8" stroke-width="0.9"/>
<text x="1165.4" y="505.7" font-family="Liberation Sans, sans-serif" font-size="13.2" fill="#000">5.736</text>
<path d="M1145.95 456.45H1161.15" stroke="#fff" stroke-opacity="0.8" stroke-width="0.9"/>
<text x="1165.4" y="461.05" font-family="Liberation Sans, sans-serif" font-size="13.2" fill="#000">5.748</text>
<path d="M1145.95 411.8H1161.15" stroke="#fff" stroke-opacity="0.8" stroke-width="0.9"/>
<text x="1165.4" y="416.4" font-family="Liberation Sans, sans-serif" font-size="13.2" fill="#000">5.76</text>
<path d="M1145.95 367.15H1161.15" stroke="#fff" stroke-opacity="0.8" stroke-width="0.9"/>
<text x="1165.4" y="371.75" font-family="Liberation Sans, sans-serif" font-size="13.2" fill="#000">5.772</text>
<path d="M1145.95 322.5H1161.15" stroke="#fff" stroke-opacity="0.8" stroke-width="0.9"/>
<text x="1165.4" y="327.1" font-family="Liberation Sans, sans-serif" font-size="13.2" fill="#000">5.783</text>
<path d="M1145.95 277.85H1161.15" stroke="#fff" stroke-opacity="0.8" stroke-width="0.9"/>
<text x="1165.4" y="282.45" font-family="Liberation Sans, sans-serif" font-size="13.2" fill="#000">5.795</text>
<path d="M1145.95 233.2H1161.15" stroke="#fff" stroke-opacity="0.8" stroke-width="0.9"/>
<text x="1165.4" y="237.8" font-family="Liberation Sans, sans-serif" font-size="13.2" fill="#000">5.807</text>
<path d="M1145.95 188.55H1161.15" stroke="#fff" stroke-opacity="0.8" stroke-width="0.9"/>
<text x="1165.4" y="193.15" font-family="Liberation Sans, sans-serif" font-size="13.2" fill="#000">5.819</text>
<path d="M1145.95 143.9H1161.15" stroke="#fff" stroke-opacity="0.8" stroke-width="0.9"/>
<text x="1165.4" y="148.5" font-family="Liberation Sans, sans-serif" font-size="13.2" fill="#000">5.831</text>
<rect x="915.5" y="877.3" width="209" height="21" fill="#fff" stroke="#a4a4a4" stroke-width="1.2"/>
<text x="164.9" y="33.3" font-family="DejaVu Sans Light, DejaVu Sans, Liberation Sans, sans-serif" font-weight="200" font-size="32" fill="#000" textLength="90.9" lengthAdjust="spacingAndGlyphs">Mapa</text>
<text x="275.9" y="33.3" font-family="DejaVu Sans Light, DejaVu Sans, Liberation Sans, sans-serif" font-weight="200" font-size="32" fill="#000" textLength="38.49" lengthAdjust="spacingAndGlyphs">de</text>
<text x="333.1" y="33.3" font-family="DejaVu Sans Light, DejaVu Sans, Liberation Sans, sans-serif" font-weight="200" font-size="32" fill="#000" textLength="132.01" lengthAdjust="spacingAndGlyphs">Espesor</text>
<text x="487" y="33.3" font-family="DejaVu Sans Light, DejaVu Sans, Liberation Sans, sans-serif" font-weight="200" font-size="32" fill="#000" textLength="181.21" lengthAdjust="spacingAndGlyphs">500–1000</text>
<text x="687.1" y="33.3" font-family="DejaVu Sans Light, DejaVu Sans, Liberation Sans, sans-serif" font-weight="200" font-size="32" fill="#000" textLength="78.8" lengthAdjust="spacingAndGlyphs">(km,</text>
<text x="784.9" y="33.3" font-family="DejaVu Sans Light, DejaVu Sans, Liberation Sans, sans-serif" font-weight="200" font-size="32" fill="#000" textLength="104.51" lengthAdjust="spacingAndGlyphs">somd.</text>
<text x="909.1" y="33.3" font-family="DejaVu Sans Light, DejaVu Sans, Liberation Sans, sans-serif" font-weight="200" font-size="32" fill="#000" textLength="26.09" lengthAdjust="spacingAndGlyphs">+</text>
<text x="956.9" y="33.3" font-family="DejaVu Sans Light, DejaVu Sans, Liberation Sans, sans-serif" font-weight="200" font-size="32" fill="#000" textLength="100.34" lengthAdjust="spacingAndGlyphs">cont.)</text>
<text x="56.9" y="60.8" font-family="DejaVu Sans, Liberation Sans, sans-serif" font-weight="400" font-size="17" fill="#2537f3" textLength="136.04" lengthAdjust="spacingAndGlyphs">08–Feb–2026</text>
<text x="291.9" y="60.8" font-family="DejaVu Sans, Liberation Sans, sans-serif" font-weight="400" font-size="17" fill="#2537f3" textLength="45.42" lengthAdjust="spacingAndGlyphs">1800</text>
<text x="349" y="60.8" font-family="DejaVu Sans, Liberation Sans, sans-serif" font-weight="400" font-size="17" fill="#2537f3" textLength="35" lengthAdjust="spacingAndGlyphs">UTC</text>
<text x="419" y="60.8" font-family="DejaVu Sans, Liberation Sans, sans-serif" font-weight="400" font-size="17" fill="#2537f3" textLength="42.11" lengthAdjust="spacingAndGlyphs">2:00</text>
<text x="471" y="60.8" font-family="DejaVu Sans, Liberation Sans, sans-serif" font-weight="400" font-size="17" fill="#2537f3" textLength="30.15" lengthAdjust="spacingAndGlyphs">pm</text>
<text x="511.9" y="60.8" font-family="DejaVu Sans, Liberation Sans, sans-serif" font-weight="400" font-size="17" fill="#2537f3" textLength="44.3" lengthAdjust="spacingAndGlyphs">Hora</text>
<text x="565.1" y="60.8" font-family="DejaVu Sans, Liberation Sans, sans-serif" font-weight="400" font-size="17" fill="#2537f3" textLength="50.06" lengthAdjust="spacingAndGlyphs">Local</text>
<text x="45.9" y="81.8" font-family="DejaVu Sans, Liberation Sans, sans-serif" font-weight="400" font-size="15.2" fill="#1a9af8" textLength="90.2" lengthAdjust="spacingAndGlyphs">Pronóstico</text>
<text x="146.9" y="81.8" font-family="DejaVu Sans, Liberation Sans, sans-serif" font-weight="400" font-size="15.2" fill="#1a9af8" textLength="30.34" lengthAdjust="spacingAndGlyphs">con</text>
<text x="186.9" y="81.8" font-family="DejaVu Sans, Liberation Sans, sans-serif" font-weight="400" font-size="15.2" fill="#1a9af8" textLength="14.42" lengthAdjust="spacingAndGlyphs">el</text>
<text x="210.9" y="81.8" font-family="DejaVu Sans, Liberation Sans, sans-serif" font-weight="400" font-size="15.2" fill="#1a9af8" textLength="58.09" lengthAdjust="spacingAndGlyphs">Modelo</text>
<text x="278.9" y="81.8" font-family="DejaVu Sans, Liberation Sans, sans-serif" font-weight="400" font-size="15.2" fill="#1a9af8" textLength="100.04" lengthAdjust="spacingAndGlyphs">Atmósferico</text>
<text x="390" y="81.8" font-family="DejaVu Sans, Liberation Sans, sans-serif" font-weight="400" font-size="15.2" fill="#1a9af8" textLength="31.03" lengthAdjust="spacingAndGlyphs">WRF</text>
<text x="431.9" y="81.8" font-family="DejaVu Sans, Liberation Sans, sans-serif" font-weight="400" font-size="15.2" fill="#1a9af8" textLength="94.16" lengthAdjust="spacingAndGlyphs">inicializado</text>
<text x="536.5" y="81.8" font-family="DejaVu Sans, Liberation Sans, sans-serif" font-weight="400" font-size="15.2" fill="#1a9af8" textLength="9.6" lengthAdjust="spacingAndGlyphs">a</text>
<text x="555.3" y="81.8" font-family="DejaVu Sans, Liberation Sans, sans-serif" font-weight="400" font-size="15.2" fill="#1a9af8" textLength="24.67" lengthAdjust="spacingAndGlyphs">las</text>
<text x="589" y="81.8" font-family="DejaVu Sans, Liberation Sans, sans-serif" font-weight="400" font-size="15.2" fill="#1a9af8" textLength="184.12" lengthAdjust="spacingAndGlyphs">0600UTC_07FEB2026</text>
<text x="783.4" y="81.8" font-family="DejaVu Sans, Liberation Sans, sans-serif" font-weight="400" font-size="15.2" fill="#1a9af8" textLength="9.39" lengthAdjust="spacingAndGlyphs">y</text>
<text x="803" y="81.8" font-family="DejaVu Sans, Liberation Sans, sans-serif" font-weight="400" font-size="15.2" fill="#1a9af8" textLength="48.02" lengthAdjust="spacingAndGlyphs">válido</text>
<text x="860.1" y="81.8" font-family="DejaVu Sans, Liberation Sans, sans-serif" font-weight="400" font-size="15.2" fill="#1a9af8" textLength="48.23" lengthAdjust="spacingAndGlyphs">hasta</text>
<text x="916.9" y="81.8" font-family="DejaVu Sans, Liberation Sans, sans-serif" font-weight="400" font-size="15.2" fill="#1a9af8" textLength="23.27" lengthAdjust="spacingAndGlyphs">las</text>
<text x="961.1" y="81.8" font-family="DejaVu Sans, Liberation Sans, sans-serif" font-weight="400" font-size="15.2" fill="#1a9af8" textLength="182.85" lengthAdjust="spacingAndGlyphs">0600UTC_10FEB2026</text>
<text x="395" y="62.3" font-family="DejaVu Sans Light, DejaVu Sans, Liberation Sans, sans-serif" font-weight="200" font-size="21" fill="#2b3df5" textLength="13.02" lengthAdjust="spacingAndGlyphs">/</text>
<text x="931.4" y="893.5" font-family="DejaVu Sans, Liberation Sans, sans-serif" font-weight="400" font-size="14.4" fill="#1e9cff" textLength="21.17" lengthAdjust="spacingAndGlyphs">Sis</text>
<text x="954.5" y="893.5" font-family="DejaVu Sans, Liberation Sans, sans-serif" font-weight="400" font-size="19" fill="#1634ff" textLength="16.26" lengthAdjust="spacingAndGlyphs">ππ</text>
<text x="973" y="893.5" font-family="DejaVu Sans, Liberation Sans, sans-serif" font-weight="400" font-size="14.4" fill="#484848" textLength="10.91" lengthAdjust="spacingAndGlyphs">–</text>
<text x="992.6" y="893.5" font-family="DejaVu Sans, Liberation Sans, sans-serif" font-weight="400" font-size="14.4" fill="#484848" textLength="127.05" lengthAdjust="spacingAndGlyphs">ONAMET/REP.DOM.</text>
</svg>
</body></html>
